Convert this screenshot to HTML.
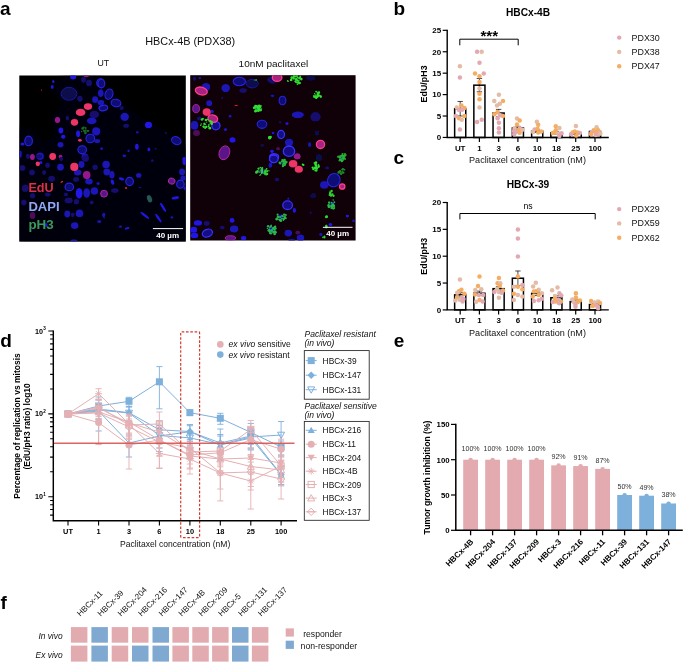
<!DOCTYPE html>
<html lang="en"><head><meta charset="utf-8"><title>Figure</title>
<style>
html,body{margin:0;padding:0;background:#fff;}
body{width:685px;height:663px;overflow:hidden;font-family:"Liberation Sans",sans-serif;}
svg{display:block;}
svg text{font-family:"Liberation Sans",sans-serif;}
</style></head><body>
<svg width="685" height="663" viewBox="0 0 685 663">
<rect width="685" height="663" fill="#fff"/>
<defs>
<clipPath id="cl"><rect x="19.3" y="75.5" width="166.5" height="166.1"/></clipPath>
<clipPath id="cr"><rect x="190.2" y="75.2" width="165.4" height="165.3"/></clipPath>
<filter id="bl" x="-5%" y="-5%" width="110%" height="110%"><feGaussianBlur stdDeviation="0.75"/></filter>
<filter id="bl2" x="-5%" y="-5%" width="110%" height="110%"><feGaussianBlur stdDeviation="3"/></filter>
</defs>
<rect x="19.3" y="75.5" width="166.5" height="166.1" fill="#000"/>
<g clip-path="url(#cl)">
<g filter="url(#bl2)"><polygon points="65.2,75.7 104.6,75.7 100.0,78.1 116.3,97.1 127.1,108.0 146.2,120.2 170.6,133.8 186.9,147.4 186.9,241.9 19.1,241.9 19.1,127.0 32.6,129.7 44.9,143.3 54.4,135.2 51.6,114.8 62.5,105.3 54.4,93.1 55.7,82.2" fill="#03040f"/></g>
<g filter="url(#bl)">
<ellipse cx="73.1" cy="77.1" rx="3.0" ry="2.4" fill="#2218e6"/>
<ellipse cx="83.5" cy="79.8" rx="2.4" ry="3.0" fill="#120e6c"/>
<ellipse cx="89.0" cy="82.9" rx="3.0" ry="3.4" fill="#120e6c"/>
<ellipse cx="100.5" cy="82.9" rx="3.8" ry="4.1" fill="#100c74" stroke="#2a24e0" stroke-width="1.1"/>
<ellipse cx="53.3" cy="81.5" rx="1.2" ry="1.6" fill="#2218e6"/>
<ellipse cx="52.3" cy="87.0" rx="1.4" ry="1.9" fill="#2218e6"/>
<ellipse cx="69.0" cy="93.8" rx="7.9" ry="6.5" fill="#0a084c" stroke="#1c18a8" stroke-width="0.9"/>
<ellipse cx="79.9" cy="98.8" rx="2.7" ry="3.0" fill="#120e6c"/>
<ellipse cx="95.1" cy="99.6" rx="3.0" ry="3.4" fill="#1a14b4"/>
<ellipse cx="100.8" cy="93.1" rx="2.7" ry="3.8" fill="#1a14b4"/>
<ellipse cx="100.8" cy="102.6" rx="3.4" ry="2.7" fill="#1a14b4"/>
<ellipse cx="101.9" cy="108.0" rx="3.4" ry="3.0" fill="#1a14b4"/>
<ellipse cx="94.4" cy="114.5" rx="4.8" ry="3.8" fill="#120e6c"/>
<ellipse cx="91.7" cy="120.9" rx="4.8" ry="3.4" fill="#1a14b4"/>
<ellipse cx="96.2" cy="131.4" rx="4.1" ry="4.1" fill="#1a14b4"/>
<ellipse cx="90.3" cy="138.5" rx="4.3" ry="4.3" fill="#100c74" stroke="#2a24e0" stroke-width="1.1"/>
<ellipse cx="97.1" cy="140.9" rx="3.0" ry="2.0" fill="#1a14b4"/>
<ellipse cx="78.1" cy="133.8" rx="2.0" ry="3.4" fill="#2218e6"/>
<ellipse cx="60.9" cy="130.4" rx="2.4" ry="3.0" fill="#2218e6"/>
<ellipse cx="63.2" cy="136.8" rx="2.2" ry="2.0" fill="#2218e6"/>
<ellipse cx="60.5" cy="144.7" rx="3.0" ry="2.7" fill="#1a14b4"/>
<ellipse cx="82.2" cy="149.8" rx="4.3" ry="4.1" fill="#100c74" stroke="#2a24e0" stroke-width="1.1"/>
<ellipse cx="28.6" cy="140.9" rx="3.8" ry="4.8" fill="#100c74" stroke="#2a24e0" stroke-width="1.1"/>
<ellipse cx="22.5" cy="144.0" rx="2.0" ry="1.6" fill="#2218e6"/>
<ellipse cx="40.1" cy="156.2" rx="3.8" ry="3.8" fill="#1a14b4"/>
<ellipse cx="27.9" cy="156.2" rx="2.0" ry="2.7" fill="#120e6c"/>
<ellipse cx="20.4" cy="154.2" rx="1.4" ry="3.4" fill="#1a14b4"/>
<ellipse cx="67.3" cy="118.2" rx="1.6" ry="2.4" fill="#120e6c"/>
<ellipse cx="84.9" cy="156.9" rx="3.4" ry="3.4" fill="#1a14b4"/>
<ellipse cx="88.0" cy="106.6" rx="4.1" ry="3.3" fill="#ee3468"/>
<ellipse cx="80.6" cy="112.4" rx="4.8" ry="3.7" fill="#ee3468"/>
<ellipse cx="74.5" cy="122.3" rx="3.7" ry="3.4" fill="#ee3468"/>
<ellipse cx="57.5" cy="120.0" rx="2.7" ry="3.0" fill="#96188c"/>
<ellipse cx="79.9" cy="140.3" rx="1.9" ry="1.4" fill="#ee3468"/>
<ellipse cx="52.7" cy="156.5" rx="3.4" ry="3.4" fill="#ee3468"/>
<ellipse cx="32.4" cy="156.9" rx="2.4" ry="3.0" fill="#96188c"/>
<ellipse cx="60.5" cy="156.6" rx="1.9" ry="1.9" fill="#96188c"/>
<ellipse cx="86.3" cy="76.1" rx="2.7" ry="1.1" fill="#96188c"/>
<ellipse cx="41.5" cy="90.1" rx="0.7" ry="0.7" fill="#e02030"/>
<ellipse cx="101.4" cy="83.6" rx="3.4" ry="4.3" fill="#100c74" stroke="#2a24e0" stroke-width="1.1"/>
<ellipse cx="100.7" cy="93.3" rx="2.7" ry="3.4" fill="#1a14b4"/>
<ellipse cx="109.0" cy="94.2" rx="3.8" ry="5.2" fill="#100c74" stroke="#2a24e0" stroke-width="1.1" transform="rotate(20 109.0 94.2)"/>
<ellipse cx="101.1" cy="102.3" rx="3.0" ry="2.4" fill="#1a14b4"/>
<ellipse cx="103.4" cy="108.0" rx="4.3" ry="2.7" fill="#100c74" stroke="#2a24e0" stroke-width="1.1" transform="rotate(-10 103.4 108.0)"/>
<ellipse cx="116.0" cy="103.0" rx="4.9" ry="3.7" fill="#100c74" stroke="#2a24e0" stroke-width="1.1" transform="rotate(10 116.0 103.0)"/>
<ellipse cx="121.7" cy="108.0" rx="2.0" ry="2.0" fill="#120e6c"/>
<ellipse cx="124.7" cy="116.8" rx="4.3" ry="4.1" fill="#1a14b4"/>
<ellipse cx="126.1" cy="125.7" rx="3.0" ry="2.0" fill="#120e6c"/>
<ellipse cx="148.5" cy="125.0" rx="3.5" ry="3.3" fill="#2218e6"/>
<ellipse cx="176.3" cy="140.6" rx="4.9" ry="3.8" fill="#100c74" stroke="#2a24e0" stroke-width="1.1" transform="rotate(25 176.3 140.6)"/>
<ellipse cx="137.3" cy="132.4" rx="1.4" ry="1.1" fill="#1a14b4"/>
<ellipse cx="136.9" cy="146.7" rx="1.8" ry="3.0" fill="#2218e6"/>
<ellipse cx="148.9" cy="149.4" rx="1.4" ry="1.9" fill="#2218e6"/>
<ellipse cx="101.6" cy="148.7" rx="1.4" ry="1.4" fill="#1a14b4"/>
<ellipse cx="124.4" cy="155.8" rx="1.9" ry="1.4" fill="#1a14b4"/>
<ellipse cx="184.4" cy="158.9" rx="2.0" ry="1.6" fill="#2218e6"/>
<ellipse cx="128.5" cy="150.8" rx="1.1" ry="1.4" fill="#1a14b4"/>
<ellipse cx="155.7" cy="148.7" rx="0.8" ry="0.8" fill="#1a14b4"/>
<ellipse cx="165.8" cy="133.1" rx="1.4" ry="1.1" fill="#0c0a44"/>
<ellipse cx="22.5" cy="167.9" rx="3.0" ry="3.0" fill="#120e6c"/>
<ellipse cx="32.0" cy="172.6" rx="3.0" ry="3.0" fill="#120e6c"/>
<ellipse cx="40.8" cy="162.5" rx="1.6" ry="1.6" fill="#2218e6"/>
<ellipse cx="47.6" cy="165.2" rx="2.4" ry="2.7" fill="#120e6c"/>
<ellipse cx="60.5" cy="167.2" rx="3.4" ry="3.4" fill="#1a14b4"/>
<ellipse cx="44.2" cy="172.6" rx="2.0" ry="2.4" fill="#120e6c"/>
<ellipse cx="51.6" cy="178.8" rx="3.4" ry="3.0" fill="#120e6c"/>
<ellipse cx="69.3" cy="186.9" rx="4.3" ry="3.8" fill="#100c74" stroke="#2a24e0" stroke-width="1.1"/>
<ellipse cx="79.1" cy="193.3" rx="3.4" ry="5.2" fill="#2218e6"/>
<ellipse cx="86.7" cy="193.0" rx="3.4" ry="4.8" fill="#1a14b4"/>
<ellipse cx="94.4" cy="191.0" rx="3.8" ry="3.8" fill="#1a14b4"/>
<ellipse cx="89.0" cy="181.5" rx="3.8" ry="3.0" fill="#1a14b4"/>
<ellipse cx="77.7" cy="172.6" rx="3.8" ry="3.0" fill="#1a14b4"/>
<ellipse cx="81.5" cy="164.5" rx="3.0" ry="3.4" fill="#1a14b4"/>
<ellipse cx="85.6" cy="158.4" rx="3.4" ry="3.4" fill="#120e6c"/>
<ellipse cx="95.1" cy="167.2" rx="2.7" ry="2.7" fill="#120e6c"/>
<ellipse cx="76.1" cy="179.4" rx="3.0" ry="2.4" fill="#120e6c"/>
<ellipse cx="25.2" cy="188.3" rx="3.4" ry="3.8" fill="#120e6c"/>
<ellipse cx="23.8" cy="202.5" rx="2.7" ry="3.0" fill="#120e6c"/>
<ellipse cx="32.6" cy="195.7" rx="2.7" ry="2.7" fill="#120e6c"/>
<ellipse cx="68.6" cy="200.5" rx="4.1" ry="3.0" fill="#120e6c"/>
<ellipse cx="76.4" cy="201.8" rx="2.7" ry="2.7" fill="#120e6c"/>
<ellipse cx="67.3" cy="214.0" rx="3.0" ry="3.4" fill="#1a14b4"/>
<ellipse cx="79.5" cy="213.4" rx="3.8" ry="3.8" fill="#1a14b4"/>
<ellipse cx="72.7" cy="214.7" rx="1.9" ry="2.2" fill="#120e6c"/>
<ellipse cx="74.7" cy="225.6" rx="3.8" ry="3.4" fill="#1a14b4"/>
<ellipse cx="46.2" cy="224.9" rx="1.4" ry="1.9" fill="#2218e6"/>
<ellipse cx="99.2" cy="221.5" rx="2.0" ry="1.6" fill="#1a14b4"/>
<ellipse cx="103.9" cy="214.7" rx="1.4" ry="2.0" fill="#1a14b4"/>
<ellipse cx="39.4" cy="156.4" rx="2.7" ry="2.0" fill="#120e6c"/>
<ellipse cx="65.9" cy="194.6" rx="2.0" ry="2.0" fill="#120e6c"/>
<ellipse cx="98.1" cy="183.5" rx="1.6" ry="1.6" fill="#1a14b4"/>
<ellipse cx="74.0" cy="240.5" rx="3.4" ry="1.1" fill="#1a14b4"/>
<ellipse cx="61.2" cy="159.1" rx="2.0" ry="2.0" fill="#120e6c"/>
<ellipse cx="91.7" cy="202.5" rx="2.0" ry="2.0" fill="#120e6c"/>
<ellipse cx="47.6" cy="194.4" rx="3.0" ry="2.0" fill="#120e6c"/>
<ellipse cx="74.3" cy="166.9" rx="4.1" ry="4.1" fill="#ee3468"/>
<ellipse cx="86.7" cy="175.1" rx="3.8" ry="4.1" fill="#96188c"/>
<ellipse cx="37.8" cy="163.8" rx="2.2" ry="2.4" fill="#ee3468"/>
<ellipse cx="61.8" cy="181.9" rx="1.4" ry="0.8" fill="#e02030" transform="rotate(-30 61.8 181.9)"/>
<ellipse cx="103.2" cy="193.7" rx="2.7" ry="3.4" fill="#96188c"/>
<ellipse cx="32.6" cy="215.4" rx="2.7" ry="3.4" fill="#4c0e58"/>
<ellipse cx="106.1" cy="164.5" rx="3.8" ry="3.8" fill="#1a14b4"/>
<ellipse cx="106.8" cy="172.0" rx="3.4" ry="3.4" fill="#1a14b4"/>
<ellipse cx="111.9" cy="174.7" rx="2.7" ry="3.8" fill="#1a14b4"/>
<ellipse cx="112.5" cy="182.1" rx="1.6" ry="2.7" fill="#2218e6" transform="rotate(-20 112.5 182.1)"/>
<ellipse cx="121.4" cy="178.8" rx="2.7" ry="1.4" fill="#2218e6" transform="rotate(15 121.4 178.8)"/>
<ellipse cx="129.6" cy="181.5" rx="3.8" ry="4.1" fill="#100c74" stroke="#2a24e0" stroke-width="1.1"/>
<ellipse cx="138.7" cy="175.4" rx="2.7" ry="2.4" fill="#1a14b4"/>
<ellipse cx="114.9" cy="190.6" rx="3.8" ry="2.4" fill="#120e6c"/>
<ellipse cx="152.3" cy="160.7" rx="1.4" ry="1.4" fill="#120e6c"/>
<ellipse cx="184.4" cy="161.1" rx="2.0" ry="4.1" fill="#2218e6"/>
<ellipse cx="182.1" cy="172.0" rx="3.0" ry="3.4" fill="#1a14b4"/>
<ellipse cx="183.1" cy="178.1" rx="2.7" ry="2.7" fill="#1a14b4"/>
<ellipse cx="180.4" cy="184.2" rx="3.8" ry="4.1" fill="#100c74" stroke="#2a24e0" stroke-width="1.1"/>
<ellipse cx="184.8" cy="188.3" rx="1.4" ry="2.0" fill="#1a14b4"/>
<ellipse cx="175.3" cy="197.8" rx="3.8" ry="1.4" fill="#2218e6" transform="rotate(-10 175.3 197.8)"/>
<ellipse cx="163.1" cy="207.3" rx="1.2" ry="5.2" fill="#2218e6" transform="rotate(-32 163.1 207.3)"/>
<ellipse cx="144.8" cy="215.4" rx="1.2" ry="5.4" fill="#2218e6" transform="rotate(-52 144.8 215.4)"/>
<ellipse cx="158.4" cy="218.1" rx="1.2" ry="5.2" fill="#2218e6" transform="rotate(-35 158.4 218.1)"/>
<ellipse cx="127.1" cy="228.3" rx="2.4" ry="1.1" fill="#2218e6" transform="rotate(-15 127.1 228.3)"/>
<ellipse cx="120.4" cy="226.7" rx="1.6" ry="1.1" fill="#1a14b4"/>
<ellipse cx="103.4" cy="216.1" rx="0.8" ry="2.7" fill="#1a14b4" transform="rotate(-30 103.4 216.1)"/>
<ellipse cx="140.0" cy="187.6" rx="1.4" ry="0.7" fill="#1a14b4"/>
<ellipse cx="171.9" cy="217.4" rx="1.4" ry="1.1" fill="#1a14b4"/>
<ellipse cx="104.1" cy="193.7" rx="3.4" ry="3.4" fill="#5a1488" stroke="#b428a4" stroke-width="0.9"/>
<ellipse cx="171.7" cy="181.1" rx="3.4" ry="3.0" fill="#5a1488" stroke="#b428a4" stroke-width="0.9" transform="rotate(20 171.7 181.1)"/>
<ellipse cx="126.1" cy="188.0" rx="1.1" ry="1.1" fill="#e02030"/>
<ellipse cx="149.5" cy="198.7" rx="2.4" ry="3.8" fill="#255858" transform="rotate(-20 149.5 198.7)"/>
<circle cx="84.2" cy="131.1" r="1.10" fill="#1e6a28"/>
<circle cx="87.6" cy="131.0" r="0.91" fill="#1e6a28"/>
<circle cx="87.6" cy="130.8" r="0.69" fill="#1e6a28"/>
<circle cx="83.9" cy="130.2" r="0.73" fill="#1e6a28"/>
<circle cx="81.6" cy="131.4" r="0.75" fill="#1e6a28"/>
<circle cx="85.4" cy="132.9" r="1.30" fill="#1e6a28"/>
<circle cx="82.6" cy="128.5" r="1.31" fill="#1e6a28"/>
<circle cx="88.5" cy="130.8" r="0.86" fill="#1e6a28"/>
<circle cx="85.8" cy="130.8" r="0.87" fill="#1e6a28"/>
<circle cx="85.6" cy="128.1" r="1.05" fill="#1e6a28"/>
<circle cx="83.3" cy="127.8" r="1.03" fill="#1e6a28"/>
<circle cx="85.8" cy="130.1" r="0.80" fill="#1e6a28"/>
<circle cx="83.8" cy="127.3" r="0.87" fill="#1e6a28"/>
</g></g>
<rect x="190.2" y="75.2" width="165.4" height="165.3" fill="#100008"/>
<g clip-path="url(#cr)"><g filter="url(#bl)">
<ellipse cx="239.3" cy="81.5" rx="6.1" ry="4.3" fill="#100c74" stroke="#2a24e0" stroke-width="1.1"/>
<ellipse cx="252.2" cy="83.6" rx="6.1" ry="4.3" fill="#0a084c" stroke="#1c18a8" stroke-width="0.9"/>
<ellipse cx="225.7" cy="88.1" rx="4.3" ry="4.1" fill="#1a14b4"/>
<ellipse cx="206.0" cy="87.0" rx="4.3" ry="4.1" fill="#1a14b4"/>
<ellipse cx="243.1" cy="90.6" rx="3.8" ry="2.4" fill="#120e6c"/>
<ellipse cx="271.9" cy="79.8" rx="4.8" ry="3.4" fill="#120e6c"/>
<ellipse cx="209.2" cy="103.3" rx="3.0" ry="3.0" fill="#1a14b4"/>
<ellipse cx="194.5" cy="125.4" rx="3.8" ry="4.3" fill="#1a14b4"/>
<ellipse cx="215.9" cy="125.7" rx="4.1" ry="4.1" fill="#120e84" stroke="#3830ff" stroke-width="1.3"/>
<ellipse cx="262.0" cy="124.3" rx="4.8" ry="4.1" fill="#100c74" stroke="#2a24e0" stroke-width="1.1"/>
<ellipse cx="232.5" cy="139.9" rx="3.0" ry="2.7" fill="#2218e6"/>
<ellipse cx="225.5" cy="129.7" rx="1.4" ry="1.4" fill="#2218e6"/>
<ellipse cx="230.1" cy="116.2" rx="1.4" ry="1.4" fill="#1a14b4"/>
<ellipse cx="199.3" cy="118.6" rx="2.4" ry="2.0" fill="#120e6c"/>
<ellipse cx="273.2" cy="156.9" rx="3.4" ry="3.0" fill="#120e84" stroke="#3830ff" stroke-width="1.3"/>
<ellipse cx="271.9" cy="151.4" rx="1.6" ry="1.4" fill="#2218e6"/>
<ellipse cx="272.6" cy="95.8" rx="1.4" ry="1.1" fill="#2218e6"/>
<ellipse cx="199.9" cy="78.1" rx="1.4" ry="1.1" fill="#1a14b4"/>
<ellipse cx="194.5" cy="78.8" rx="1.6" ry="2.0" fill="#120e6c"/>
<ellipse cx="212.1" cy="111.4" rx="1.6" ry="1.6" fill="#2218e6"/>
<ellipse cx="273.2" cy="133.1" rx="1.4" ry="1.1" fill="#1a14b4"/>
<ellipse cx="222.3" cy="97.8" rx="1.1" ry="1.1" fill="#120e6c"/>
<ellipse cx="262.4" cy="145.3" rx="2.0" ry="1.6" fill="#0c0a44"/>
<ellipse cx="201.3" cy="91.0" rx="6.1" ry="3.8" fill="#a82080" stroke="#ff3c8c" stroke-width="1.3" transform="rotate(15 201.3 91.0)"/>
<ellipse cx="196.1" cy="108.7" rx="3.4" ry="4.1" fill="#5a1488" stroke="#b428a4" stroke-width="0.9"/>
<ellipse cx="206.7" cy="112.1" rx="4.1" ry="3.8" fill="#ee3468"/>
<ellipse cx="212.8" cy="118.6" rx="4.9" ry="3.7" fill="#a82080" stroke="#ff3c8c" stroke-width="1.3" transform="rotate(15 212.8 118.6)"/>
<ellipse cx="196.5" cy="133.1" rx="3.4" ry="3.0" fill="#4c0e58"/>
<ellipse cx="224.4" cy="152.8" rx="5.2" ry="7.1" fill="#5a1488" stroke="#b428a4" stroke-width="0.9" transform="rotate(20 224.4 152.8)"/>
<ellipse cx="273.9" cy="77.5" rx="1.6" ry="2.7" fill="#ee3468"/>
<ellipse cx="236.2" cy="105.6" rx="1.9" ry="0.5" fill="#e02030"/>
<ellipse cx="282.5" cy="100.5" rx="3.4" ry="4.3" fill="#100c74" stroke="#2a24e0" stroke-width="1.1"/>
<ellipse cx="297.8" cy="114.8" rx="6.1" ry="3.4" fill="#1a14b4"/>
<ellipse cx="315.5" cy="116.8" rx="5.2" ry="4.8" fill="#120e6c"/>
<ellipse cx="281.1" cy="134.5" rx="3.4" ry="4.1" fill="#120e84" stroke="#3830ff" stroke-width="1.3"/>
<ellipse cx="289.0" cy="142.6" rx="4.1" ry="3.8" fill="#1a14b4"/>
<ellipse cx="289.0" cy="151.2" rx="5.7" ry="5.2" fill="#120e84" stroke="#3830ff" stroke-width="1.3"/>
<ellipse cx="274.8" cy="156.9" rx="3.8" ry="3.0" fill="#120e84" stroke="#3830ff" stroke-width="1.3"/>
<ellipse cx="287.0" cy="123.6" rx="1.6" ry="1.4" fill="#2218e6"/>
<ellipse cx="273.0" cy="133.1" rx="1.1" ry="1.1" fill="#2218e6"/>
<ellipse cx="272.0" cy="95.8" rx="1.4" ry="1.1" fill="#1a14b4"/>
<ellipse cx="272.0" cy="151.2" rx="1.6" ry="1.4" fill="#2218e6"/>
<ellipse cx="309.6" cy="144.7" rx="1.6" ry="2.4" fill="#1a14b4"/>
<ellipse cx="316.8" cy="133.1" rx="2.4" ry="2.7" fill="#0c0a44"/>
<ellipse cx="310.7" cy="78.1" rx="4.8" ry="2.7" fill="#0c0a44"/>
<ellipse cx="272.7" cy="80.9" rx="3.0" ry="2.7" fill="#120e6c"/>
<ellipse cx="318.9" cy="156.9" rx="2.7" ry="2.4" fill="#120e6c"/>
<ellipse cx="280.2" cy="122.3" rx="1.4" ry="1.1" fill="#120e6c"/>
<ellipse cx="277.1" cy="77.5" rx="4.8" ry="3.8" fill="#a82080" stroke="#ff3c8c" stroke-width="1.3"/>
<ellipse cx="320.5" cy="144.4" rx="4.1" ry="4.1" fill="#a82080" stroke="#ff3c8c" stroke-width="1.3"/>
<ellipse cx="297.4" cy="156.2" rx="3.0" ry="3.0" fill="#96188c"/>
<ellipse cx="278.1" cy="148.7" rx="1.9" ry="1.6" fill="#4c0e58"/>
<ellipse cx="197.9" cy="222.9" rx="4.1" ry="2.7" fill="#2218e6"/>
<ellipse cx="193.8" cy="229.7" rx="3.4" ry="3.0" fill="#2218e6"/>
<ellipse cx="194.5" cy="235.4" rx="3.8" ry="2.7" fill="#2218e6"/>
<ellipse cx="207.4" cy="233.1" rx="5.2" ry="3.8" fill="#120e84" stroke="#3830ff" stroke-width="1.3" transform="rotate(-20 207.4 233.1)"/>
<ellipse cx="206.7" cy="223.5" rx="3.0" ry="2.4" fill="#120e6c"/>
<ellipse cx="232.1" cy="220.4" rx="2.4" ry="2.4" fill="#2218e6"/>
<ellipse cx="234.1" cy="229.0" rx="4.3" ry="3.4" fill="#1a14b4"/>
<ellipse cx="222.3" cy="227.6" rx="2.4" ry="1.9" fill="#120e6c"/>
<ellipse cx="243.6" cy="238.1" rx="2.7" ry="2.2" fill="#2218e6"/>
<ellipse cx="270.5" cy="165.2" rx="1.6" ry="2.4" fill="#2218e6"/>
<ellipse cx="272.6" cy="158.4" rx="3.0" ry="3.4" fill="#120e84" stroke="#3830ff" stroke-width="1.3"/>
<ellipse cx="191.1" cy="230.3" rx="1.1" ry="2.7" fill="#2218e6"/>
<ellipse cx="230.5" cy="238.1" rx="5.2" ry="2.4" fill="#5a1488" stroke="#b428a4" stroke-width="0.9"/>
<ellipse cx="273.8" cy="158.8" rx="4.3" ry="3.8" fill="#120e84" stroke="#3830ff" stroke-width="1.3"/>
<ellipse cx="287.6" cy="205.2" rx="4.8" ry="4.3" fill="#120e84" stroke="#3830ff" stroke-width="1.3"/>
<ellipse cx="294.4" cy="210.4" rx="1.6" ry="2.4" fill="#2218e6"/>
<ellipse cx="324.3" cy="184.9" rx="4.3" ry="3.8" fill="#1a14b4"/>
<ellipse cx="333.8" cy="180.1" rx="6.1" ry="6.8" fill="#100c74" stroke="#2a24e0" stroke-width="1.1" transform="rotate(30 333.8 180.1)"/>
<ellipse cx="288.3" cy="233.1" rx="3.8" ry="3.4" fill="#1a14b4"/>
<ellipse cx="300.5" cy="237.8" rx="3.8" ry="3.4" fill="#1a14b4"/>
<ellipse cx="277.1" cy="179.4" rx="2.0" ry="2.0" fill="#120e6c"/>
<ellipse cx="313.2" cy="195.7" rx="3.0" ry="2.7" fill="#0c0a44"/>
<ellipse cx="318.9" cy="157.7" rx="3.4" ry="3.4" fill="#0c0a44"/>
<ellipse cx="327.3" cy="167.9" rx="2.0" ry="1.6" fill="#120e6c"/>
<ellipse cx="347.4" cy="216.1" rx="1.6" ry="1.4" fill="#2218e6"/>
<ellipse cx="353.5" cy="220.8" rx="1.4" ry="1.4" fill="#1a14b4"/>
<ellipse cx="330.4" cy="224.5" rx="1.9" ry="1.6" fill="#2218e6"/>
<ellipse cx="288.3" cy="198.7" rx="1.1" ry="1.1" fill="#1a14b4"/>
<ellipse cx="291.7" cy="240.2" rx="3.4" ry="1.1" fill="#1a14b4"/>
<ellipse cx="270.0" cy="165.2" rx="1.4" ry="2.7" fill="#1a14b4"/>
<ellipse cx="320.9" cy="234.4" rx="1.6" ry="1.6" fill="#1a14b4"/>
<ellipse cx="310.7" cy="212.7" rx="1.1" ry="1.1" fill="#120e6c"/>
<ellipse cx="293.1" cy="163.8" rx="4.3" ry="3.8" fill="#ee3468"/>
<ellipse cx="298.8" cy="169.3" rx="4.1" ry="3.5" fill="#ee3468"/>
<ellipse cx="297.1" cy="156.6" rx="3.4" ry="2.7" fill="#96188c"/>
<ellipse cx="342.2" cy="186.5" rx="2.7" ry="2.7" fill="#a82080" stroke="#ff3c8c" stroke-width="1.3"/>
<ellipse cx="297.8" cy="232.6" rx="2.4" ry="1.9" fill="#4c0e58"/>
<ellipse cx="258.3" cy="108.7" rx="2.4" ry="1.7" fill="#1818d0"/>
<circle cx="255.6" cy="107.5" r="0.86" fill="#30e030"/>
<circle cx="259.4" cy="106.0" r="0.83" fill="#30e030"/>
<circle cx="255.2" cy="107.6" r="1.25" fill="#30e030"/>
<circle cx="258.0" cy="106.9" r="1.32" fill="#30e030"/>
<circle cx="260.6" cy="110.2" r="1.17" fill="#30e030"/>
<circle cx="260.2" cy="110.6" r="0.69" fill="#30e030"/>
<circle cx="256.3" cy="106.1" r="1.05" fill="#30e030"/>
<circle cx="260.2" cy="107.3" r="1.13" fill="#30e030"/>
<circle cx="255.3" cy="107.2" r="0.97" fill="#30e030"/>
<circle cx="260.8" cy="105.9" r="0.98" fill="#30e030"/>
<circle cx="257.7" cy="108.0" r="1.13" fill="#30e030"/>
<circle cx="255.4" cy="106.0" r="1.21" fill="#30e030"/>
<circle cx="257.7" cy="110.7" r="1.11" fill="#30e030"/>
<circle cx="261.5" cy="109.0" r="0.78" fill="#30e030"/>
<circle cx="259.2" cy="109.2" r="1.18" fill="#30e030"/>
<circle cx="259.9" cy="109.9" r="0.92" fill="#30e030"/>
<circle cx="259.2" cy="108.0" r="0.96" fill="#30e030"/>
<circle cx="254.0" cy="107.7" r="1.21" fill="#30e030"/>
<circle cx="259.9" cy="107.3" r="0.94" fill="#30e030"/>
<circle cx="255.5" cy="111.2" r="1.30" fill="#30e030"/>
<circle cx="259.5" cy="109.8" r="0.82" fill="#30e030"/>
<circle cx="258.6" cy="111.0" r="1.06" fill="#30e030"/>
<circle cx="258.3" cy="108.9" r="0.94" fill="#30e030"/>
<circle cx="255.9" cy="110.6" r="1.30" fill="#30e030"/>
<circle cx="257.1" cy="106.4" r="1.08" fill="#30e030"/>
<circle cx="257.8" cy="108.0" r="1.26" fill="#30e030"/>
<circle cx="259.1" cy="105.6" r="1.20" fill="#30e030"/>
<circle cx="256.0" cy="110.0" r="0.73" fill="#30e030"/>
<circle cx="204.2" cy="123.2" r="0.71" fill="#30e030"/>
<circle cx="206.1" cy="126.7" r="0.89" fill="#30e030"/>
<circle cx="205.5" cy="124.3" r="0.77" fill="#30e030"/>
<circle cx="208.6" cy="126.5" r="0.68" fill="#30e030"/>
<circle cx="209.1" cy="120.9" r="0.76" fill="#30e030"/>
<circle cx="205.3" cy="127.9" r="0.91" fill="#30e030"/>
<circle cx="209.8" cy="128.2" r="1.33" fill="#30e030"/>
<circle cx="200.7" cy="125.2" r="0.72" fill="#30e030"/>
<circle cx="208.5" cy="126.4" r="0.84" fill="#30e030"/>
<circle cx="206.7" cy="122.1" r="0.68" fill="#30e030"/>
<circle cx="210.1" cy="123.0" r="0.76" fill="#30e030"/>
<circle cx="204.3" cy="124.0" r="1.02" fill="#30e030"/>
<circle cx="211.6" cy="123.5" r="1.13" fill="#30e030"/>
<circle cx="205.1" cy="128.0" r="0.78" fill="#30e030"/>
<circle cx="206.0" cy="119.9" r="1.18" fill="#30e030"/>
<circle cx="203.8" cy="126.8" r="1.20" fill="#30e030"/>
<circle cx="211.6" cy="123.8" r="1.20" fill="#30e030"/>
<circle cx="207.8" cy="119.5" r="0.82" fill="#30e030"/>
<circle cx="201.3" cy="123.9" r="0.68" fill="#30e030"/>
<circle cx="208.9" cy="124.9" r="0.84" fill="#30e030"/>
<circle cx="203.0" cy="118.7" r="0.96" fill="#30e030"/>
<circle cx="211.6" cy="122.0" r="1.30" fill="#30e030"/>
<circle cx="203.3" cy="126.5" r="0.82" fill="#30e030"/>
<circle cx="206.4" cy="126.9" r="1.08" fill="#30e030"/>
<circle cx="210.4" cy="121.0" r="0.98" fill="#30e030"/>
<circle cx="201.9" cy="119.8" r="0.72" fill="#30e030"/>
<circle cx="201.9" cy="119.4" r="1.19" fill="#30e030"/>
<circle cx="205.4" cy="120.1" r="0.78" fill="#30e030"/>
<circle cx="269.4" cy="137.1" r="1.20" fill="#30e030"/>
<circle cx="270.2" cy="137.7" r="0.93" fill="#30e030"/>
<circle cx="270.5" cy="137.5" r="0.78" fill="#30e030"/>
<circle cx="269.6" cy="138.2" r="1.27" fill="#30e030"/>
<circle cx="269.4" cy="137.4" r="1.21" fill="#30e030"/>
<circle cx="256.2" cy="80.1" r="0.90" fill="#1e8a28"/>
<circle cx="254.3" cy="80.1" r="0.67" fill="#1e8a28"/>
<circle cx="256.2" cy="80.1" r="1.02" fill="#1e8a28"/>
<circle cx="299.7" cy="78.2" r="1.24" fill="#30e030"/>
<circle cx="297.6" cy="77.6" r="0.83" fill="#30e030"/>
<circle cx="295.8" cy="81.7" r="1.05" fill="#30e030"/>
<circle cx="296.3" cy="82.6" r="0.75" fill="#30e030"/>
<circle cx="299.2" cy="78.0" r="0.97" fill="#30e030"/>
<circle cx="292.0" cy="77.2" r="0.94" fill="#30e030"/>
<circle cx="299.8" cy="77.8" r="1.02" fill="#30e030"/>
<circle cx="295.7" cy="79.4" r="0.96" fill="#30e030"/>
<circle cx="296.6" cy="79.8" r="1.20" fill="#30e030"/>
<circle cx="298.2" cy="82.4" r="1.15" fill="#30e030"/>
<circle cx="293.6" cy="78.6" r="1.01" fill="#30e030"/>
<circle cx="291.9" cy="78.1" r="0.74" fill="#30e030"/>
<circle cx="294.0" cy="78.6" r="0.85" fill="#30e030"/>
<circle cx="297.0" cy="76.1" r="1.04" fill="#30e030"/>
<circle cx="296.8" cy="75.0" r="0.96" fill="#30e030"/>
<circle cx="293.5" cy="77.3" r="1.01" fill="#30e030"/>
<circle cx="295.2" cy="76.5" r="1.02" fill="#30e030"/>
<circle cx="291.3" cy="80.1" r="1.13" fill="#30e030"/>
<circle cx="300.2" cy="76.3" r="0.84" fill="#30e030"/>
<circle cx="291.6" cy="77.8" r="1.22" fill="#30e030"/>
<circle cx="297.7" cy="80.8" r="0.96" fill="#30e030"/>
<circle cx="298.9" cy="80.5" r="0.71" fill="#30e030"/>
<circle cx="294.1" cy="75.8" r="1.26" fill="#30e030"/>
<circle cx="299.1" cy="82.8" r="1.10" fill="#30e030"/>
<circle cx="299.6" cy="83.0" r="1.31" fill="#30e030"/>
<circle cx="297.5" cy="84.1" r="0.93" fill="#30e030"/>
<circle cx="291.1" cy="79.9" r="1.22" fill="#30e030"/>
<circle cx="298.4" cy="82.2" r="1.01" fill="#30e030"/>
<circle cx="295.2" cy="81.3" r="0.88" fill="#30e030"/>
<circle cx="296.3" cy="78.8" r="1.03" fill="#30e030"/>
<circle cx="295.8" cy="79.7" r="0.89" fill="#30e030"/>
<circle cx="293.7" cy="77.1" r="0.71" fill="#30e030"/>
<circle cx="301.3" cy="79.1" r="1.31" fill="#30e030"/>
<circle cx="288.1" cy="81.4" r="0.69" fill="#30e030"/>
<circle cx="287.7" cy="80.7" r="0.75" fill="#30e030"/>
<circle cx="314.3" cy="96.8" r="1.21" fill="#30e030"/>
<circle cx="317.4" cy="96.6" r="1.28" fill="#30e030"/>
<circle cx="314.6" cy="93.7" r="0.72" fill="#30e030"/>
<circle cx="320.5" cy="96.2" r="0.95" fill="#30e030"/>
<circle cx="320.8" cy="96.7" r="1.09" fill="#30e030"/>
<circle cx="317.9" cy="94.1" r="1.23" fill="#30e030"/>
<circle cx="320.7" cy="96.5" r="0.97" fill="#30e030"/>
<circle cx="316.0" cy="97.5" r="1.28" fill="#30e030"/>
<circle cx="317.4" cy="96.5" r="1.02" fill="#30e030"/>
<circle cx="317.6" cy="96.4" r="0.77" fill="#30e030"/>
<circle cx="319.1" cy="95.6" r="0.87" fill="#30e030"/>
<circle cx="316.4" cy="98.2" r="0.86" fill="#30e030"/>
<circle cx="315.9" cy="95.1" r="0.90" fill="#30e030"/>
<circle cx="319.4" cy="95.3" r="0.68" fill="#30e030"/>
<circle cx="317.2" cy="92.3" r="0.79" fill="#30e030"/>
<circle cx="313.9" cy="95.7" r="0.74" fill="#30e030"/>
<circle cx="318.6" cy="92.8" r="0.99" fill="#30e030"/>
<circle cx="318.7" cy="93.1" r="1.00" fill="#30e030"/>
<circle cx="316.1" cy="91.6" r="0.89" fill="#30e030"/>
<circle cx="319.1" cy="92.3" r="1.09" fill="#30e030"/>
<circle cx="315.7" cy="96.4" r="0.70" fill="#30e030"/>
<circle cx="318.2" cy="95.8" r="1.16" fill="#30e030"/>
<circle cx="317.5" cy="96.6" r="0.72" fill="#30e030"/>
<circle cx="345.0" cy="154.2" r="1.11" fill="#28a828"/>
<circle cx="342.2" cy="158.5" r="0.86" fill="#28a828"/>
<circle cx="340.8" cy="157.2" r="0.96" fill="#28a828"/>
<circle cx="342.2" cy="160.2" r="1.31" fill="#28a828"/>
<circle cx="340.4" cy="156.4" r="1.31" fill="#28a828"/>
<circle cx="341.6" cy="158.8" r="0.67" fill="#28a828"/>
<circle cx="340.2" cy="158.5" r="1.00" fill="#28a828"/>
<circle cx="343.6" cy="159.2" r="0.67" fill="#28a828"/>
<circle cx="342.5" cy="157.9" r="0.93" fill="#28a828"/>
<circle cx="343.3" cy="157.0" r="0.87" fill="#28a828"/>
<circle cx="343.0" cy="159.5" r="1.02" fill="#28a828"/>
<circle cx="342.6" cy="154.1" r="1.14" fill="#28a828"/>
<circle cx="344.8" cy="155.4" r="0.88" fill="#28a828"/>
<circle cx="344.4" cy="156.7" r="1.15" fill="#28a828"/>
<circle cx="342.0" cy="156.3" r="1.22" fill="#28a828"/>
<circle cx="345.5" cy="155.2" r="1.15" fill="#28a828"/>
<circle cx="343.3" cy="155.7" r="1.01" fill="#28a828"/>
<circle cx="338.3" cy="156.8" r="1.20" fill="#28a828"/>
<circle cx="270.6" cy="136.9" r="1.26" fill="#30e030"/>
<circle cx="270.0" cy="136.8" r="0.82" fill="#30e030"/>
<ellipse cx="262.4" cy="171.3" rx="3.4" ry="2.4" fill="#1818d0"/>
<circle cx="264.8" cy="171.6" r="0.90" fill="#30d030"/>
<circle cx="267.3" cy="173.9" r="1.04" fill="#30d030"/>
<circle cx="258.6" cy="168.6" r="1.12" fill="#30d030"/>
<circle cx="262.0" cy="171.3" r="1.20" fill="#30d030"/>
<circle cx="262.3" cy="167.9" r="1.02" fill="#30d030"/>
<circle cx="261.4" cy="170.3" r="1.15" fill="#30d030"/>
<circle cx="262.3" cy="172.6" r="0.84" fill="#30d030"/>
<circle cx="262.0" cy="169.2" r="1.16" fill="#30d030"/>
<circle cx="267.1" cy="170.8" r="0.92" fill="#30d030"/>
<circle cx="256.8" cy="171.8" r="1.18" fill="#30d030"/>
<circle cx="258.3" cy="168.7" r="0.72" fill="#30d030"/>
<circle cx="264.4" cy="173.2" r="1.16" fill="#30d030"/>
<circle cx="260.7" cy="174.7" r="0.67" fill="#30d030"/>
<circle cx="265.6" cy="172.2" r="1.11" fill="#30d030"/>
<circle cx="260.4" cy="167.6" r="0.86" fill="#30d030"/>
<circle cx="257.8" cy="171.0" r="0.98" fill="#30d030"/>
<circle cx="267.1" cy="174.3" r="0.80" fill="#30d030"/>
<circle cx="268.9" cy="170.7" r="0.68" fill="#30d030"/>
<circle cx="256.4" cy="172.4" r="1.31" fill="#30d030"/>
<circle cx="259.0" cy="172.1" r="0.80" fill="#30d030"/>
<circle cx="265.3" cy="170.6" r="1.05" fill="#30d030"/>
<circle cx="265.5" cy="174.0" r="1.30" fill="#30d030"/>
<circle cx="266.5" cy="174.5" r="1.00" fill="#30d030"/>
<circle cx="266.7" cy="168.7" r="0.82" fill="#30d030"/>
<circle cx="266.2" cy="169.3" r="0.68" fill="#30d030"/>
<circle cx="267.1" cy="171.4" r="0.96" fill="#30d030"/>
<circle cx="261.6" cy="173.0" r="0.89" fill="#30d030"/>
<circle cx="259.9" cy="175.3" r="0.67" fill="#30d030"/>
<ellipse cx="271.2" cy="229.7" rx="2.4" ry="2.4" fill="#1818d0"/>
<circle cx="271.2" cy="225.3" r="0.74" fill="#2aa860"/>
<circle cx="274.8" cy="227.9" r="1.26" fill="#2aa860"/>
<circle cx="270.5" cy="232.5" r="0.93" fill="#2aa860"/>
<circle cx="274.8" cy="229.6" r="0.90" fill="#2aa860"/>
<circle cx="269.0" cy="230.7" r="0.70" fill="#2aa860"/>
<circle cx="274.7" cy="232.2" r="0.85" fill="#2aa860"/>
<circle cx="273.4" cy="228.7" r="0.84" fill="#2aa860"/>
<circle cx="269.1" cy="229.5" r="0.91" fill="#2aa860"/>
<circle cx="275.5" cy="228.4" r="1.20" fill="#2aa860"/>
<circle cx="268.1" cy="226.3" r="1.29" fill="#2aa860"/>
<circle cx="267.4" cy="228.4" r="0.70" fill="#2aa860"/>
<circle cx="270.8" cy="226.5" r="1.17" fill="#2aa860"/>
<circle cx="269.6" cy="227.7" r="0.70" fill="#2aa860"/>
<circle cx="272.7" cy="228.9" r="0.98" fill="#2aa860"/>
<circle cx="269.8" cy="231.8" r="1.16" fill="#2aa860"/>
<circle cx="273.6" cy="229.3" r="1.10" fill="#2aa860"/>
<circle cx="270.1" cy="233.0" r="0.93" fill="#2aa860"/>
<circle cx="272.1" cy="231.3" r="0.80" fill="#2aa860"/>
<circle cx="274.0" cy="227.8" r="0.81" fill="#2aa860"/>
<circle cx="275.1" cy="227.0" r="0.96" fill="#2aa860"/>
<circle cx="272.5" cy="231.3" r="0.73" fill="#2aa860"/>
<circle cx="270.4" cy="230.9" r="0.82" fill="#2aa860"/>
<circle cx="271.0" cy="233.2" r="1.26" fill="#2aa860"/>
<ellipse cx="282.9" cy="163.1" rx="1.9" ry="1.9" fill="#1818d0"/>
<circle cx="282.9" cy="160.7" r="0.94" fill="#28b838"/>
<circle cx="280.6" cy="162.8" r="0.89" fill="#28b838"/>
<circle cx="284.7" cy="163.9" r="1.31" fill="#28b838"/>
<circle cx="284.8" cy="165.1" r="1.08" fill="#28b838"/>
<circle cx="284.0" cy="161.8" r="0.85" fill="#28b838"/>
<circle cx="282.9" cy="165.5" r="0.96" fill="#28b838"/>
<circle cx="286.3" cy="162.1" r="1.25" fill="#28b838"/>
<circle cx="283.6" cy="163.2" r="1.14" fill="#28b838"/>
<circle cx="285.0" cy="161.6" r="1.06" fill="#28b838"/>
<circle cx="285.3" cy="163.1" r="1.28" fill="#28b838"/>
<circle cx="284.5" cy="160.0" r="1.31" fill="#28b838"/>
<circle cx="282.9" cy="164.4" r="0.77" fill="#28b838"/>
<circle cx="279.8" cy="162.7" r="1.29" fill="#28b838"/>
<circle cx="282.4" cy="160.1" r="1.17" fill="#28b838"/>
<circle cx="280.2" cy="163.9" r="0.69" fill="#28b838"/>
<circle cx="283.3" cy="161.3" r="1.28" fill="#28b838"/>
<circle cx="281.6" cy="161.5" r="0.75" fill="#28b838"/>
<circle cx="282.9" cy="166.2" r="1.13" fill="#28b838"/>
<circle cx="303.5" cy="165.0" r="1.01" fill="#30e030"/>
<circle cx="302.5" cy="164.4" r="0.81" fill="#30e030"/>
<circle cx="303.1" cy="164.7" r="0.87" fill="#30e030"/>
<circle cx="312.6" cy="167.5" r="1.09" fill="#30e030"/>
<circle cx="318.5" cy="164.7" r="0.82" fill="#30e030"/>
<circle cx="316.5" cy="170.5" r="1.13" fill="#30e030"/>
<circle cx="316.2" cy="167.1" r="1.00" fill="#30e030"/>
<circle cx="315.2" cy="164.2" r="0.84" fill="#30e030"/>
<circle cx="314.5" cy="163.1" r="0.82" fill="#30e030"/>
<circle cx="318.7" cy="167.0" r="0.94" fill="#30e030"/>
<circle cx="315.7" cy="164.9" r="1.20" fill="#30e030"/>
<circle cx="316.2" cy="163.7" r="0.80" fill="#30e030"/>
<circle cx="318.7" cy="166.1" r="1.21" fill="#30e030"/>
<circle cx="316.7" cy="168.4" r="1.17" fill="#30e030"/>
<circle cx="315.3" cy="170.4" r="0.99" fill="#30e030"/>
<circle cx="317.2" cy="168.3" r="0.94" fill="#30e030"/>
<circle cx="314.4" cy="163.1" r="0.76" fill="#30e030"/>
<circle cx="314.9" cy="167.7" r="1.31" fill="#30e030"/>
<circle cx="317.0" cy="167.3" r="0.70" fill="#30e030"/>
<circle cx="313.4" cy="168.9" r="1.25" fill="#30e030"/>
<circle cx="316.0" cy="162.5" r="1.28" fill="#30e030"/>
<circle cx="315.6" cy="168.1" r="1.29" fill="#30e030"/>
<circle cx="316.4" cy="165.8" r="1.11" fill="#30e030"/>
<ellipse cx="341.9" cy="158.4" rx="2.4" ry="1.5" fill="#1818d0"/>
<circle cx="339.8" cy="159.7" r="0.89" fill="#28b838"/>
<circle cx="342.1" cy="158.5" r="0.85" fill="#28b838"/>
<circle cx="339.2" cy="160.7" r="0.75" fill="#28b838"/>
<circle cx="344.1" cy="158.1" r="0.90" fill="#28b838"/>
<circle cx="343.8" cy="156.0" r="0.95" fill="#28b838"/>
<circle cx="345.1" cy="159.0" r="0.91" fill="#28b838"/>
<circle cx="343.8" cy="157.8" r="0.91" fill="#28b838"/>
<circle cx="342.6" cy="158.1" r="0.94" fill="#28b838"/>
<circle cx="343.5" cy="156.0" r="0.69" fill="#28b838"/>
<circle cx="343.1" cy="158.6" r="1.28" fill="#28b838"/>
<circle cx="341.8" cy="161.0" r="1.26" fill="#28b838"/>
<circle cx="340.6" cy="159.7" r="1.30" fill="#28b838"/>
<circle cx="340.1" cy="157.4" r="1.14" fill="#28b838"/>
<circle cx="340.9" cy="159.8" r="0.67" fill="#28b838"/>
<circle cx="342.1" cy="155.5" r="1.09" fill="#28b838"/>
<circle cx="342.4" cy="171.8" r="0.82" fill="#1e8a28"/>
<circle cx="338.7" cy="172.5" r="1.30" fill="#1e8a28"/>
<circle cx="340.7" cy="173.1" r="0.95" fill="#1e8a28"/>
<circle cx="338.7" cy="172.1" r="0.79" fill="#1e8a28"/>
<circle cx="342.9" cy="169.2" r="1.21" fill="#1e8a28"/>
<circle cx="342.3" cy="169.4" r="0.88" fill="#1e8a28"/>
<circle cx="341.1" cy="173.8" r="1.19" fill="#1e8a28"/>
<circle cx="343.3" cy="172.7" r="1.17" fill="#1e8a28"/>
<circle cx="342.0" cy="172.8" r="0.69" fill="#1e8a28"/>
<circle cx="340.1" cy="171.3" r="1.32" fill="#1e8a28"/>
<circle cx="344.5" cy="169.7" r="0.84" fill="#1e8a28"/>
<circle cx="332.6" cy="194.2" r="1.00" fill="#30d030"/>
<circle cx="331.3" cy="191.8" r="0.82" fill="#30d030"/>
<circle cx="329.7" cy="194.9" r="1.11" fill="#30d030"/>
<circle cx="331.7" cy="190.9" r="1.11" fill="#30d030"/>
<circle cx="333.7" cy="195.6" r="0.86" fill="#30d030"/>
<circle cx="330.1" cy="192.9" r="1.16" fill="#30d030"/>
<circle cx="332.2" cy="195.1" r="0.83" fill="#30d030"/>
<circle cx="333.4" cy="196.0" r="1.05" fill="#30d030"/>
<circle cx="330.9" cy="195.4" r="1.32" fill="#30d030"/>
<circle cx="330.3" cy="193.6" r="1.20" fill="#30d030"/>
<circle cx="330.1" cy="191.2" r="0.73" fill="#30d030"/>
<ellipse cx="332.4" cy="204.5" rx="2.2" ry="2.4" fill="#1818d0"/>
<circle cx="328.6" cy="205.2" r="1.22" fill="#2ab848"/>
<circle cx="333.2" cy="204.1" r="0.86" fill="#2ab848"/>
<circle cx="333.8" cy="206.0" r="1.31" fill="#2ab848"/>
<circle cx="328.8" cy="202.3" r="0.91" fill="#2ab848"/>
<circle cx="334.4" cy="202.2" r="0.84" fill="#2ab848"/>
<circle cx="333.2" cy="200.0" r="0.74" fill="#2ab848"/>
<circle cx="329.6" cy="202.4" r="0.81" fill="#2ab848"/>
<circle cx="331.3" cy="205.9" r="0.80" fill="#2ab848"/>
<circle cx="332.3" cy="208.2" r="1.10" fill="#2ab848"/>
<circle cx="332.6" cy="205.0" r="0.88" fill="#2ab848"/>
<circle cx="331.6" cy="202.7" r="0.87" fill="#2ab848"/>
<circle cx="333.6" cy="208.6" r="1.03" fill="#2ab848"/>
<circle cx="333.7" cy="205.1" r="0.93" fill="#2ab848"/>
<circle cx="329.1" cy="203.4" r="0.73" fill="#2ab848"/>
<circle cx="334.3" cy="207.9" r="0.94" fill="#2ab848"/>
<circle cx="331.9" cy="207.1" r="1.30" fill="#2ab848"/>
<circle cx="331.2" cy="207.9" r="0.90" fill="#2ab848"/>
<circle cx="328.9" cy="206.8" r="1.33" fill="#2ab848"/>
<circle cx="331.2" cy="206.1" r="1.15" fill="#2ab848"/>
<circle cx="332.5" cy="204.9" r="1.26" fill="#2ab848"/>
<ellipse cx="280.9" cy="216.8" rx="2.7" ry="2.4" fill="#1818d0"/>
<circle cx="276.5" cy="218.7" r="0.94" fill="#2ab848"/>
<circle cx="283.6" cy="214.6" r="0.77" fill="#2ab848"/>
<circle cx="284.9" cy="217.1" r="1.09" fill="#2ab848"/>
<circle cx="282.2" cy="216.0" r="1.08" fill="#2ab848"/>
<circle cx="278.2" cy="219.2" r="0.76" fill="#2ab848"/>
<circle cx="280.0" cy="220.1" r="1.28" fill="#2ab848"/>
<circle cx="283.8" cy="218.9" r="1.20" fill="#2ab848"/>
<circle cx="283.2" cy="216.3" r="0.75" fill="#2ab848"/>
<circle cx="285.9" cy="215.1" r="0.99" fill="#2ab848"/>
<circle cx="285.8" cy="218.3" r="0.92" fill="#2ab848"/>
<circle cx="284.4" cy="214.6" r="1.21" fill="#2ab848"/>
<circle cx="283.4" cy="220.3" r="0.81" fill="#2ab848"/>
<circle cx="276.7" cy="219.2" r="1.22" fill="#2ab848"/>
<circle cx="281.9" cy="218.8" r="0.93" fill="#2ab848"/>
<circle cx="277.5" cy="216.4" r="0.75" fill="#2ab848"/>
<circle cx="280.9" cy="220.8" r="1.26" fill="#2ab848"/>
<circle cx="284.8" cy="217.7" r="1.17" fill="#2ab848"/>
<circle cx="285.7" cy="217.8" r="0.74" fill="#2ab848"/>
<circle cx="277.6" cy="214.7" r="1.08" fill="#2ab848"/>
<circle cx="279.6" cy="219.7" r="1.05" fill="#2ab848"/>
<circle cx="276.9" cy="218.5" r="0.96" fill="#2ab848"/>
<circle cx="280.1" cy="217.0" r="1.08" fill="#2ab848"/>
<circle cx="278.2" cy="216.9" r="1.17" fill="#2ab848"/>
<ellipse cx="272.7" cy="230.3" rx="2.0" ry="2.4" fill="#1818d0"/>
<circle cx="273.2" cy="227.2" r="0.78" fill="#2ab848"/>
<circle cx="271.4" cy="230.6" r="0.75" fill="#2ab848"/>
<circle cx="271.6" cy="230.9" r="0.96" fill="#2ab848"/>
<circle cx="271.9" cy="230.3" r="1.09" fill="#2ab848"/>
<circle cx="275.7" cy="232.3" r="1.18" fill="#2ab848"/>
<circle cx="271.8" cy="230.3" r="1.00" fill="#2ab848"/>
<circle cx="269.9" cy="233.6" r="0.76" fill="#2ab848"/>
<circle cx="275.2" cy="226.6" r="1.15" fill="#2ab848"/>
<circle cx="273.4" cy="228.4" r="1.32" fill="#2ab848"/>
<circle cx="268.7" cy="230.6" r="1.27" fill="#2ab848"/>
<circle cx="274.6" cy="234.0" r="1.28" fill="#2ab848"/>
<circle cx="274.9" cy="231.5" r="1.17" fill="#2ab848"/>
<circle cx="274.8" cy="234.1" r="0.85" fill="#2ab848"/>
<circle cx="273.3" cy="228.7" r="1.00" fill="#2ab848"/>
<circle cx="274.3" cy="229.3" r="0.84" fill="#2ab848"/>
<circle cx="270.4" cy="230.2" r="0.69" fill="#2ab848"/>
<circle cx="273.4" cy="232.1" r="1.29" fill="#2ab848"/>
<circle cx="271.1" cy="226.3" r="0.78" fill="#2ab848"/>
<circle cx="327.1" cy="216.8" r="1.02" fill="#30d030"/>
<circle cx="326.6" cy="216.5" r="1.25" fill="#30d030"/>
<circle cx="326.2" cy="216.9" r="1.25" fill="#30d030"/>
<circle cx="324.5" cy="237.4" r="1.08" fill="#30d030"/>
<circle cx="322.9" cy="237.3" r="0.84" fill="#30d030"/>
<circle cx="324.4" cy="236.4" r="0.90" fill="#30d030"/>
<circle cx="326.4" cy="225.5" r="0.78" fill="#30d030"/>
<circle cx="326.3" cy="226.0" r="1.21" fill="#30d030"/>
<circle cx="326.3" cy="227.1" r="1.32" fill="#30d030"/>
</g></g>
<g font-family="'Liberation Sans', sans-serif" font-weight="bold" font-size="13.1">
<text x="28.4" y="192.3" fill="#dc3049" textLength="25.3" lengthAdjust="spacingAndGlyphs">EdU</text>
<text x="28.4" y="210.6" fill="#8ea8f2" textLength="31.2" lengthAdjust="spacingAndGlyphs">DAPI</text>
<text x="28.4" y="229.4" fill="#3a9a5c" textLength="25.3" lengthAdjust="spacingAndGlyphs">pH3</text>
</g>
<rect x="152.9" y="228.1" width="30.2" height="1" fill="#fff"/>
<rect x="322.9" y="226.8" width="29.6" height="1" fill="#fff"/>
<g font-family="'Liberation Sans', sans-serif" font-weight="bold" font-size="8.0" fill="#fff">
<text x="156.2" y="237.6">40 µm</text>
<text x="326.2" y="236.4">40 µm</text>
</g>
<g font-family="'Liberation Sans', sans-serif" fill="#111">
<text x="0" y="15" font-weight="bold" font-size="19" fill="#000">a</text>
<text x="145.2" y="45.2" font-size="10.2" textLength="90" lengthAdjust="spacingAndGlyphs">HBCx-4B (PDX38)</text>
<text x="97.5" y="66.4" font-size="9.6" textLength="11.7" lengthAdjust="spacingAndGlyphs">UT</text>
<text x="238.6" y="67.4" font-size="9.4" textLength="69.6" lengthAdjust="spacingAndGlyphs">10nM paclitaxel</text>
</g>
<g id="pb">
<rect x="454.65" y="108.74" width="11.1" height="28.71" fill="#fff" stroke="#000" stroke-width="1.5"/>
<path d="M460.20 101.46V116.02M457.50 101.46h5.4M457.50 116.02h5.4" stroke="#000" stroke-width="0.7" fill="none"/>
<rect x="473.85" y="85.17" width="11.1" height="52.28" fill="#fff" stroke="#000" stroke-width="1.5"/>
<path d="M479.40 78.53V91.81M476.70 78.53h5.4M476.70 91.81h5.4" stroke="#000" stroke-width="0.7" fill="none"/>
<rect x="493.05" y="113.03" width="11.1" height="24.42" fill="#fff" stroke="#000" stroke-width="1.5"/>
<path d="M498.60 109.38V116.67M495.90 109.38h5.4M495.90 116.67h5.4" stroke="#000" stroke-width="0.7" fill="none"/>
<rect x="512.35" y="128.02" width="11.1" height="9.43" fill="#fff" stroke="#000" stroke-width="1.5"/>
<path d="M517.90 126.31V129.74M515.20 126.31h5.4M515.20 129.74h5.4" stroke="#000" stroke-width="0.7" fill="none"/>
<rect x="531.65" y="131.24" width="11.1" height="6.21" fill="#fff" stroke="#000" stroke-width="1.5"/>
<path d="M537.20 129.95V132.52M534.50 129.95h5.4M534.50 132.52h5.4" stroke="#000" stroke-width="0.7" fill="none"/>
<rect x="550.85" y="132.74" width="11.1" height="4.71" fill="#fff" stroke="#000" stroke-width="1.5"/>
<path d="M556.40 131.45V134.02M553.70 131.45h5.4M553.70 134.02h5.4" stroke="#000" stroke-width="0.7" fill="none"/>
<rect x="570.15" y="133.59" width="11.1" height="3.86" fill="#fff" stroke="#000" stroke-width="1.5"/>
<path d="M575.70 132.74V134.45M573.00 132.74h5.4M573.00 134.45h5.4" stroke="#000" stroke-width="0.7" fill="none"/>
<rect x="589.45" y="131.45" width="11.1" height="6.00" fill="#fff" stroke="#000" stroke-width="1.5"/>
<path d="M595.00 130.38V132.52M592.30 130.38h5.4M592.30 132.52h5.4" stroke="#000" stroke-width="0.7" fill="none"/>
<path d="M447.2 29.72V137.45H608.8" stroke="#000" stroke-width="1.4" fill="none"/>
<path d="M442.7 137.45h4.5" stroke="#000" stroke-width="1.2"/>
<text x="441.2" y="140.25" font-family="'Liberation Sans', sans-serif" font-weight="bold" font-size="8.0" text-anchor="end">0</text>
<path d="M442.7 116.02h4.5" stroke="#000" stroke-width="1.2"/>
<text x="441.2" y="118.82" font-family="'Liberation Sans', sans-serif" font-weight="bold" font-size="8.0" text-anchor="end">5</text>
<path d="M442.7 94.60h4.5" stroke="#000" stroke-width="1.2"/>
<text x="441.2" y="97.40" font-family="'Liberation Sans', sans-serif" font-weight="bold" font-size="8.0" text-anchor="end">10</text>
<path d="M442.7 73.17h4.5" stroke="#000" stroke-width="1.2"/>
<text x="441.2" y="75.97" font-family="'Liberation Sans', sans-serif" font-weight="bold" font-size="8.0" text-anchor="end">15</text>
<path d="M442.7 51.75h4.5" stroke="#000" stroke-width="1.2"/>
<text x="441.2" y="54.55" font-family="'Liberation Sans', sans-serif" font-weight="bold" font-size="8.0" text-anchor="end">20</text>
<path d="M442.7 30.32h4.5" stroke="#000" stroke-width="1.2"/>
<text x="441.2" y="33.12" font-family="'Liberation Sans', sans-serif" font-weight="bold" font-size="8.0" text-anchor="end">25</text>
<path d="M460.20 137.45v4.6" stroke="#000" stroke-width="1.2"/>
<text x="460.20" y="150.55" font-family="'Liberation Sans', sans-serif" font-weight="bold" font-size="7.95" text-anchor="middle">UT</text>
<path d="M479.40 137.45v4.6" stroke="#000" stroke-width="1.2"/>
<text x="479.40" y="150.55" font-family="'Liberation Sans', sans-serif" font-weight="bold" font-size="7.95" text-anchor="middle">1</text>
<path d="M498.60 137.45v4.6" stroke="#000" stroke-width="1.2"/>
<text x="498.60" y="150.55" font-family="'Liberation Sans', sans-serif" font-weight="bold" font-size="7.95" text-anchor="middle">3</text>
<path d="M517.90 137.45v4.6" stroke="#000" stroke-width="1.2"/>
<text x="517.90" y="150.55" font-family="'Liberation Sans', sans-serif" font-weight="bold" font-size="7.95" text-anchor="middle">6</text>
<path d="M537.20 137.45v4.6" stroke="#000" stroke-width="1.2"/>
<text x="537.20" y="150.55" font-family="'Liberation Sans', sans-serif" font-weight="bold" font-size="7.95" text-anchor="middle">10</text>
<path d="M556.40 137.45v4.6" stroke="#000" stroke-width="1.2"/>
<text x="556.40" y="150.55" font-family="'Liberation Sans', sans-serif" font-weight="bold" font-size="7.95" text-anchor="middle">18</text>
<path d="M575.70 137.45v4.6" stroke="#000" stroke-width="1.2"/>
<text x="575.70" y="150.55" font-family="'Liberation Sans', sans-serif" font-weight="bold" font-size="7.95" text-anchor="middle">25</text>
<path d="M595.00 137.45v4.6" stroke="#000" stroke-width="1.2"/>
<text x="595.00" y="150.55" font-family="'Liberation Sans', sans-serif" font-weight="bold" font-size="7.95" text-anchor="middle">100</text>
<circle cx="459.9" cy="66.3" r="2.25" fill="#e3bba6"/>
<circle cx="459.9" cy="77.5" r="2.25" fill="#e3a9b3"/>
<circle cx="456.7" cy="107.4" r="2.25" fill="#e3bba6"/>
<circle cx="461.4" cy="105.6" r="2.25" fill="#f4ad62"/>
<circle cx="464.4" cy="107.9" r="2.25" fill="#f4ad62"/>
<circle cx="459.0" cy="110.1" r="2.25" fill="#e3a9b3"/>
<circle cx="462.1" cy="109.8" r="2.25" fill="#e3a9b3"/>
<circle cx="455.9" cy="116.1" r="2.25" fill="#e3a9b3"/>
<circle cx="464.4" cy="116.1" r="2.25" fill="#f4ad62"/>
<circle cx="459.0" cy="118.3" r="2.25" fill="#f4ad62"/>
<circle cx="461.7" cy="119.7" r="2.25" fill="#e3bba6"/>
<circle cx="459.9" cy="129.5" r="2.25" fill="#e3a9b3"/>
<circle cx="477.1" cy="51.8" r="2.25" fill="#e3a9b3"/>
<circle cx="481.7" cy="51.8" r="2.25" fill="#e3bba6"/>
<circle cx="479.5" cy="62.7" r="2.25" fill="#e3a9b3"/>
<circle cx="475.0" cy="73.4" r="2.25" fill="#f4ad62"/>
<circle cx="483.8" cy="73.4" r="2.25" fill="#e3a9b3"/>
<circle cx="479.5" cy="76.2" r="2.25" fill="#f4ad62"/>
<circle cx="479.5" cy="82.0" r="2.25" fill="#f4ad62"/>
<circle cx="479.5" cy="88.4" r="2.25" fill="#e3bba6"/>
<circle cx="479.5" cy="93.8" r="2.25" fill="#f4ad62"/>
<circle cx="479.5" cy="99.2" r="2.25" fill="#f4ad62"/>
<circle cx="479.5" cy="107.4" r="2.25" fill="#e3bba6"/>
<circle cx="477.1" cy="121.9" r="2.25" fill="#e3a9b3"/>
<circle cx="481.7" cy="119.7" r="2.25" fill="#e3a9b3"/>
<circle cx="498.9" cy="94.7" r="2.25" fill="#e3bba6"/>
<circle cx="494.3" cy="101.1" r="2.25" fill="#e3bba6"/>
<circle cx="503.0" cy="101.1" r="2.25" fill="#f4ad62"/>
<circle cx="499.8" cy="103.8" r="2.25" fill="#e3bba6"/>
<circle cx="497.0" cy="105.6" r="2.25" fill="#e3bba6"/>
<circle cx="497.6" cy="111.9" r="2.25" fill="#f4ad62"/>
<circle cx="494.3" cy="114.3" r="2.25" fill="#f4ad62"/>
<circle cx="503.0" cy="116.1" r="2.25" fill="#f4ad62"/>
<circle cx="499.8" cy="115.0" r="2.25" fill="#e3a9b3"/>
<circle cx="497.6" cy="118.3" r="2.25" fill="#e3a9b3"/>
<circle cx="498.9" cy="122.8" r="2.25" fill="#e3a9b3"/>
<circle cx="498.9" cy="128.2" r="2.25" fill="#e3a9b3"/>
<circle cx="498.9" cy="132.4" r="2.25" fill="#e3a9b3"/>
<circle cx="517.0" cy="118.6" r="2.25" fill="#e3bba6"/>
<circle cx="519.7" cy="120.6" r="2.25" fill="#f4ad62"/>
<circle cx="517.0" cy="124.6" r="2.25" fill="#f4ad62"/>
<circle cx="514.6" cy="128.2" r="2.25" fill="#e3bba6"/>
<circle cx="519.7" cy="128.2" r="2.25" fill="#e3a9b3"/>
<circle cx="513.9" cy="130.9" r="2.25" fill="#e3a9b3"/>
<circle cx="518.8" cy="130.0" r="2.25" fill="#f4ad62"/>
<circle cx="522.4" cy="129.7" r="2.25" fill="#e3bba6"/>
<circle cx="516.1" cy="131.8" r="2.25" fill="#e3a9b3"/>
<circle cx="519.7" cy="132.8" r="2.25" fill="#f4ad62"/>
<circle cx="514.2" cy="134.2" r="2.25" fill="#e3a9b3"/>
<circle cx="536.8" cy="121.8" r="2.25" fill="#e3bba6"/>
<circle cx="538.2" cy="124.7" r="2.25" fill="#f4ad62"/>
<circle cx="534.6" cy="129.5" r="2.25" fill="#e3a9b3"/>
<circle cx="537.5" cy="128.8" r="2.25" fill="#f4ad62"/>
<circle cx="533.1" cy="132.0" r="2.25" fill="#e3bba6"/>
<circle cx="538.2" cy="132.4" r="2.25" fill="#f4ad62"/>
<circle cx="541.2" cy="131.4" r="2.25" fill="#f4ad62"/>
<circle cx="555.8" cy="126.2" r="2.25" fill="#f4ad62"/>
<circle cx="559.4" cy="128.1" r="2.25" fill="#e3bba6"/>
<circle cx="555.8" cy="130.3" r="2.25" fill="#f4ad62"/>
<circle cx="552.8" cy="132.9" r="2.25" fill="#f4ad62"/>
<circle cx="555.0" cy="132.4" r="2.25" fill="#f4ad62"/>
<circle cx="558.2" cy="133.5" r="2.25" fill="#e3bba6"/>
<circle cx="561.6" cy="133.2" r="2.25" fill="#e3a9b3"/>
<circle cx="559.4" cy="136.1" r="2.25" fill="#e3a9b3"/>
<circle cx="575.9" cy="125.9" r="2.25" fill="#e3bba6"/>
<circle cx="574.7" cy="131.4" r="2.25" fill="#f4ad62"/>
<circle cx="572.6" cy="132.4" r="2.25" fill="#f4ad62"/>
<circle cx="577.7" cy="132.4" r="2.25" fill="#f4ad62"/>
<circle cx="579.9" cy="132.9" r="2.25" fill="#e3a9b3"/>
<circle cx="571.1" cy="134.3" r="2.25" fill="#e3a9b3"/>
<circle cx="576.2" cy="135.4" r="2.25" fill="#f4ad62"/>
<circle cx="596.6" cy="127.3" r="2.25" fill="#e3bba6"/>
<circle cx="593.7" cy="130.3" r="2.25" fill="#f4ad62"/>
<circle cx="598.1" cy="130.3" r="2.25" fill="#f4ad62"/>
<circle cx="591.5" cy="132.4" r="2.25" fill="#e3a9b3"/>
<circle cx="595.9" cy="132.4" r="2.25" fill="#f4ad62"/>
<circle cx="591.2" cy="134.3" r="2.25" fill="#f4ad62"/>
<circle cx="598.8" cy="134.3" r="2.25" fill="#e3a9b3"/>
<circle cx="595.9" cy="134.9" r="2.25" fill="#e3a9b3"/>
<circle cx="600.3" cy="133.2" r="2.25" fill="#e3bba6"/>
<path d="M459.8 45.3V39.2H518.2V45.3" stroke="#000" stroke-width="1" fill="none"/>
<text x="489.3" y="40.8" font-family="'Liberation Sans', sans-serif" font-weight="bold" font-size="15" text-anchor="middle">***</text>
<text x="527.5" y="163.25" font-family="'Liberation Sans', sans-serif" font-size="9.07" text-anchor="middle" fill="#111">Paclitaxel concentration (nM)</text>
<text transform="translate(427.2 83.9) rotate(-90)" font-family="'Liberation Sans', sans-serif" font-weight="bold" font-size="8.9" text-anchor="middle">EdU/pH3</text>
<text x="528" y="16.0" font-family="'Liberation Sans', sans-serif" font-weight="bold" font-size="10.2" text-anchor="middle">HBCx-4B</text>
<circle cx="619.2" cy="37.6" r="2.2" fill="#e3a9b3"/>
<text x="631.6" y="40.6" font-family="'Liberation Sans', sans-serif" font-size="8.9" fill="#111">PDX30</text>
<circle cx="619.2" cy="51.9" r="2.2" fill="#e3bba6"/>
<text x="631.6" y="54.9" font-family="'Liberation Sans', sans-serif" font-size="8.9" fill="#111">PDX38</text>
<circle cx="619.2" cy="66.2" r="2.2" fill="#f4ad62"/>
<text x="631.6" y="69.2" font-family="'Liberation Sans', sans-serif" font-size="8.9" fill="#111">PDX47</text>
<text x="393.5" y="14.6" font-family="'Liberation Sans', sans-serif" font-weight="bold" font-size="19">b</text>
</g>
<g id="pc">
<rect x="454.65" y="294.86" width="11.1" height="15.04" fill="#fff" stroke="#000" stroke-width="1.5"/>
<path d="M460.20 292.72V297.01M457.50 292.72h5.4M457.50 297.01h5.4" stroke="#000" stroke-width="0.7" fill="none"/>
<rect x="473.85" y="293.25" width="11.1" height="16.65" fill="#fff" stroke="#000" stroke-width="1.5"/>
<path d="M479.40 291.10V295.40M476.70 291.10h5.4M476.70 295.40h5.4" stroke="#000" stroke-width="0.7" fill="none"/>
<rect x="493.05" y="288.69" width="11.1" height="21.21" fill="#fff" stroke="#000" stroke-width="1.5"/>
<path d="M498.60 286.81V290.57M495.90 286.81h5.4M495.90 290.57h5.4" stroke="#000" stroke-width="0.7" fill="none"/>
<rect x="512.35" y="278.22" width="11.1" height="31.68" fill="#fff" stroke="#000" stroke-width="1.5"/>
<path d="M517.90 270.97V285.47M515.20 270.97h5.4M515.20 285.47h5.4" stroke="#000" stroke-width="0.7" fill="none"/>
<rect x="531.65" y="293.41" width="11.1" height="16.49" fill="#fff" stroke="#000" stroke-width="1.5"/>
<path d="M537.20 291.27V295.56M534.50 291.27h5.4M534.50 295.56h5.4" stroke="#000" stroke-width="0.7" fill="none"/>
<rect x="550.85" y="297.76" width="11.1" height="12.14" fill="#fff" stroke="#000" stroke-width="1.5"/>
<path d="M556.40 295.88V299.64M553.70 295.88h5.4M553.70 299.64h5.4" stroke="#000" stroke-width="0.7" fill="none"/>
<rect x="570.15" y="301.58" width="11.1" height="8.32" fill="#fff" stroke="#000" stroke-width="1.5"/>
<path d="M575.70 299.97V303.19M573.00 299.97h5.4M573.00 303.19h5.4" stroke="#000" stroke-width="0.7" fill="none"/>
<rect x="589.45" y="304.53" width="11.1" height="5.37" fill="#fff" stroke="#000" stroke-width="1.5"/>
<path d="M595.00 303.46V305.60M592.30 303.46h5.4M592.30 305.60h5.4" stroke="#000" stroke-width="0.7" fill="none"/>
<path d="M447.2 201.90V309.90H608.8" stroke="#000" stroke-width="1.4" fill="none"/>
<path d="M442.7 309.90h4.5" stroke="#000" stroke-width="1.2"/>
<text x="441.2" y="312.70" font-family="'Liberation Sans', sans-serif" font-weight="bold" font-size="8.0" text-anchor="end">0</text>
<path d="M442.7 283.05h4.5" stroke="#000" stroke-width="1.2"/>
<text x="441.2" y="285.85" font-family="'Liberation Sans', sans-serif" font-weight="bold" font-size="8.0" text-anchor="end">5</text>
<path d="M442.7 256.20h4.5" stroke="#000" stroke-width="1.2"/>
<text x="441.2" y="259.00" font-family="'Liberation Sans', sans-serif" font-weight="bold" font-size="8.0" text-anchor="end">10</text>
<path d="M442.7 229.35h4.5" stroke="#000" stroke-width="1.2"/>
<text x="441.2" y="232.15" font-family="'Liberation Sans', sans-serif" font-weight="bold" font-size="8.0" text-anchor="end">15</text>
<path d="M442.7 202.50h4.5" stroke="#000" stroke-width="1.2"/>
<text x="441.2" y="205.30" font-family="'Liberation Sans', sans-serif" font-weight="bold" font-size="8.0" text-anchor="end">20</text>
<path d="M460.20 309.90v4.6" stroke="#000" stroke-width="1.2"/>
<text x="460.20" y="323.00" font-family="'Liberation Sans', sans-serif" font-weight="bold" font-size="7.95" text-anchor="middle">UT</text>
<path d="M479.40 309.90v4.6" stroke="#000" stroke-width="1.2"/>
<text x="479.40" y="323.00" font-family="'Liberation Sans', sans-serif" font-weight="bold" font-size="7.95" text-anchor="middle">1</text>
<path d="M498.60 309.90v4.6" stroke="#000" stroke-width="1.2"/>
<text x="498.60" y="323.00" font-family="'Liberation Sans', sans-serif" font-weight="bold" font-size="7.95" text-anchor="middle">3</text>
<path d="M517.90 309.90v4.6" stroke="#000" stroke-width="1.2"/>
<text x="517.90" y="323.00" font-family="'Liberation Sans', sans-serif" font-weight="bold" font-size="7.95" text-anchor="middle">6</text>
<path d="M537.20 309.90v4.6" stroke="#000" stroke-width="1.2"/>
<text x="537.20" y="323.00" font-family="'Liberation Sans', sans-serif" font-weight="bold" font-size="7.95" text-anchor="middle">10</text>
<path d="M556.40 309.90v4.6" stroke="#000" stroke-width="1.2"/>
<text x="556.40" y="323.00" font-family="'Liberation Sans', sans-serif" font-weight="bold" font-size="7.95" text-anchor="middle">18</text>
<path d="M575.70 309.90v4.6" stroke="#000" stroke-width="1.2"/>
<text x="575.70" y="323.00" font-family="'Liberation Sans', sans-serif" font-weight="bold" font-size="7.95" text-anchor="middle">25</text>
<path d="M595.00 309.90v4.6" stroke="#000" stroke-width="1.2"/>
<text x="595.00" y="323.00" font-family="'Liberation Sans', sans-serif" font-weight="bold" font-size="7.95" text-anchor="middle">100</text>
<circle cx="459.9" cy="279.6" r="2.25" fill="#e3bba6"/>
<circle cx="461.4" cy="289.7" r="2.25" fill="#f4ad62"/>
<circle cx="459.0" cy="291.3" r="2.25" fill="#f4ad62"/>
<circle cx="457.2" cy="292.8" r="2.25" fill="#e3bba6"/>
<circle cx="464.4" cy="293.7" r="2.25" fill="#f4ad62"/>
<circle cx="457.2" cy="297.3" r="2.25" fill="#f4ad62"/>
<circle cx="461.7" cy="297.3" r="2.25" fill="#e3a9b3"/>
<circle cx="455.4" cy="300.6" r="2.25" fill="#e3bba6"/>
<circle cx="459.9" cy="299.7" r="2.25" fill="#e3bba6"/>
<circle cx="463.5" cy="299.1" r="2.25" fill="#e3a9b3"/>
<circle cx="462.6" cy="301.5" r="2.25" fill="#e3a9b3"/>
<circle cx="479.5" cy="276.5" r="2.25" fill="#f4ad62"/>
<circle cx="478.0" cy="286.1" r="2.25" fill="#f4ad62"/>
<circle cx="475.3" cy="290.1" r="2.25" fill="#e3bba6"/>
<circle cx="481.3" cy="289.2" r="2.25" fill="#e3bba6"/>
<circle cx="475.0" cy="294.6" r="2.25" fill="#f4ad62"/>
<circle cx="478.9" cy="295.1" r="2.25" fill="#e3a9b3"/>
<circle cx="483.1" cy="295.1" r="2.25" fill="#e3a9b3"/>
<circle cx="479.5" cy="300.0" r="2.25" fill="#f4ad62"/>
<circle cx="476.2" cy="301.8" r="2.25" fill="#e3bba6"/>
<circle cx="482.6" cy="301.5" r="2.25" fill="#e3a9b3"/>
<circle cx="498.9" cy="277.9" r="2.25" fill="#f4ad62"/>
<circle cx="497.6" cy="283.2" r="2.25" fill="#f4ad62"/>
<circle cx="500.3" cy="283.2" r="2.25" fill="#e3bba6"/>
<circle cx="499.8" cy="286.1" r="2.25" fill="#f4ad62"/>
<circle cx="497.0" cy="289.2" r="2.25" fill="#e3bba6"/>
<circle cx="503.0" cy="290.4" r="2.25" fill="#f4ad62"/>
<circle cx="494.3" cy="291.9" r="2.25" fill="#e3a9b3"/>
<circle cx="498.9" cy="291.9" r="2.25" fill="#e3bba6"/>
<circle cx="501.6" cy="292.8" r="2.25" fill="#e3a9b3"/>
<circle cx="498.9" cy="297.7" r="2.25" fill="#e3bba6"/>
<circle cx="517.9" cy="229.4" r="2.25" fill="#e3a9b3"/>
<circle cx="517.9" cy="238.5" r="2.25" fill="#e3a9b3"/>
<circle cx="517.9" cy="256.6" r="2.25" fill="#e3a9b3"/>
<circle cx="517.9" cy="276.5" r="2.25" fill="#f4ad62"/>
<circle cx="522.4" cy="285.0" r="2.25" fill="#e3a9b3"/>
<circle cx="513.9" cy="286.8" r="2.25" fill="#e3bba6"/>
<circle cx="517.9" cy="286.8" r="2.25" fill="#f4ad62"/>
<circle cx="522.4" cy="289.2" r="2.25" fill="#f4ad62"/>
<circle cx="513.9" cy="293.7" r="2.25" fill="#f4ad62"/>
<circle cx="517.9" cy="295.1" r="2.25" fill="#e3bba6"/>
<circle cx="522.4" cy="296.4" r="2.25" fill="#e3bba6"/>
<circle cx="513.9" cy="300.0" r="2.25" fill="#e3bba6"/>
<circle cx="535.8" cy="282.7" r="2.25" fill="#e3bba6"/>
<circle cx="533.1" cy="286.4" r="2.25" fill="#e3bba6"/>
<circle cx="538.7" cy="289.7" r="2.25" fill="#e3bba6"/>
<circle cx="533.9" cy="291.5" r="2.25" fill="#f4ad62"/>
<circle cx="536.1" cy="291.2" r="2.25" fill="#f4ad62"/>
<circle cx="541.9" cy="293.2" r="2.25" fill="#e3bba6"/>
<circle cx="538.7" cy="295.1" r="2.25" fill="#f4ad62"/>
<circle cx="532.8" cy="296.6" r="2.25" fill="#f4ad62"/>
<circle cx="541.9" cy="298.8" r="2.25" fill="#e3a9b3"/>
<circle cx="533.9" cy="301.0" r="2.25" fill="#e3a9b3"/>
<circle cx="538.7" cy="300.3" r="2.25" fill="#e3a9b3"/>
<circle cx="557.5" cy="287.4" r="2.25" fill="#e3bba6"/>
<circle cx="552.1" cy="290.3" r="2.25" fill="#e3bba6"/>
<circle cx="559.4" cy="293.2" r="2.25" fill="#e3a9b3"/>
<circle cx="555.0" cy="295.9" r="2.25" fill="#e3bba6"/>
<circle cx="561.3" cy="295.6" r="2.25" fill="#e3a9b3"/>
<circle cx="555.0" cy="298.5" r="2.25" fill="#f4ad62"/>
<circle cx="558.2" cy="299.5" r="2.25" fill="#e3a9b3"/>
<circle cx="552.8" cy="302.0" r="2.25" fill="#e3a9b3"/>
<circle cx="555.8" cy="301.4" r="2.25" fill="#f4ad62"/>
<circle cx="560.9" cy="301.4" r="2.25" fill="#f4ad62"/>
<circle cx="559.1" cy="303.2" r="2.25" fill="#e3a9b3"/>
<circle cx="575.9" cy="293.2" r="2.25" fill="#f4ad62"/>
<circle cx="575.9" cy="297.6" r="2.25" fill="#f4ad62"/>
<circle cx="572.3" cy="299.5" r="2.25" fill="#e3bba6"/>
<circle cx="579.9" cy="300.5" r="2.25" fill="#f4ad62"/>
<circle cx="574.0" cy="302.0" r="2.25" fill="#e3bba6"/>
<circle cx="577.7" cy="302.0" r="2.25" fill="#f4ad62"/>
<circle cx="575.5" cy="304.6" r="2.25" fill="#e3a9b3"/>
<circle cx="575.5" cy="306.8" r="2.25" fill="#e3a9b3"/>
<circle cx="591.1" cy="301.0" r="2.25" fill="#f4ad62"/>
<circle cx="598.1" cy="301.4" r="2.25" fill="#e3bba6"/>
<circle cx="594.5" cy="302.4" r="2.25" fill="#e3bba6"/>
<circle cx="600.0" cy="302.9" r="2.25" fill="#f4ad62"/>
<circle cx="593.7" cy="305.4" r="2.25" fill="#f4ad62"/>
<circle cx="596.6" cy="305.4" r="2.25" fill="#e3a9b3"/>
<circle cx="592.3" cy="306.1" r="2.25" fill="#f4ad62"/>
<circle cx="598.1" cy="308.3" r="2.25" fill="#e3a9b3"/>
<path d="M459.9 219.4V213.5H595.2V219.4" stroke="#000" stroke-width="1" fill="none"/>
<text x="528" y="208.6" font-family="'Liberation Sans', sans-serif" font-size="8.7" text-anchor="middle">ns</text>
<text x="527.5" y="335.70" font-family="'Liberation Sans', sans-serif" font-size="9.07" text-anchor="middle" fill="#111">Paclitaxel concentration (nM)</text>
<text transform="translate(427.2 256.2) rotate(-90)" font-family="'Liberation Sans', sans-serif" font-weight="bold" font-size="8.9" text-anchor="middle">EdU/pH3</text>
<text x="528" y="188.2" font-family="'Liberation Sans', sans-serif" font-weight="bold" font-size="10.2" text-anchor="middle">HBCx-39</text>
<circle cx="619.2" cy="209.1" r="2.2" fill="#e3a9b3"/>
<text x="631.6" y="212.1" font-family="'Liberation Sans', sans-serif" font-size="8.9" fill="#111">PDX29</text>
<circle cx="619.2" cy="223.4" r="2.2" fill="#e3bba6"/>
<text x="631.6" y="226.4" font-family="'Liberation Sans', sans-serif" font-size="8.9" fill="#111">PDX59</text>
<circle cx="619.2" cy="237.7" r="2.2" fill="#f4ad62"/>
<text x="631.6" y="240.7" font-family="'Liberation Sans', sans-serif" font-size="8.9" fill="#111">PDX62</text>
<text x="393.5" y="163.6" font-family="'Liberation Sans', sans-serif" font-weight="bold" font-size="19">c</text>
</g>
<g id="pd">
<polyline points="68.0,414.0 98.6,406.0 129.0,401.3 159.4,381.8 189.9,412.6 220.3,418.3 250.8,432.4 281.1,447.0" fill="none" stroke="#7eb0dc" stroke-width="1"/>
<path d="M98.6 400.0V414.0M95.5 400.0h6.2M95.5 414.0h6.2M129.0 397.3V406.3M125.9 397.3h6.2M125.9 406.3h6.2M159.4 366.6V408.8M156.3 366.6h6.2M156.3 408.8h6.2M189.9 410.1V415.6M186.8 410.1h6.2M186.8 415.6h6.2M220.3 413.3V424.3M217.2 413.3h6.2M217.2 424.3h6.2M250.8 423.4V444.4M247.7 423.4h6.2M247.7 444.4h6.2M281.1 441.0V455.0M278.0 441.0h6.2M278.0 455.0h6.2" stroke="#7eb0dc" stroke-width="0.9" fill="none"/>
<rect x="64.5" y="410.5" width="7.0" height="7.0" fill="#7eb0dc"/>
<rect x="95.1" y="402.5" width="7.0" height="7.0" fill="#7eb0dc"/>
<rect x="125.5" y="397.8" width="7.0" height="7.0" fill="#7eb0dc"/>
<rect x="155.9" y="378.3" width="7.0" height="7.0" fill="#7eb0dc"/>
<rect x="186.4" y="409.1" width="7.0" height="7.0" fill="#7eb0dc"/>
<rect x="216.8" y="414.8" width="7.0" height="7.0" fill="#7eb0dc"/>
<rect x="247.3" y="428.9" width="7.0" height="7.0" fill="#7eb0dc"/>
<rect x="277.6" y="443.5" width="7.0" height="7.0" fill="#7eb0dc"/>
<polyline points="68.0,414.0 98.6,409.0 129.0,412.7 159.4,429.8 189.9,431.5 220.3,443.0 250.8,436.0 281.1,474.5" fill="none" stroke="#7eb0dc" stroke-width="1"/>
<path d="M98.6 397.0V431.0M95.5 397.0h6.2M95.5 431.0h6.2M129.0 406.7V421.7M125.9 406.7h6.2M125.9 421.7h6.2M159.4 420.8V443.8M156.3 420.8h6.2M156.3 443.8h6.2M189.9 424.5V441.5M186.8 424.5h6.2M186.8 441.5h6.2M220.3 429.0V455.0M217.2 429.0h6.2M217.2 455.0h6.2M250.8 428.0V448.0M247.7 428.0h6.2M247.7 448.0h6.2M281.1 466.5V484.5M278.0 466.5h6.2M278.0 484.5h6.2" stroke="#7eb0dc" stroke-width="0.9" fill="none"/>
<path d="M64.3 414.0L68.0 410.3L71.7 414.0L68.0 417.7Z" fill="#7eb0dc"/>
<path d="M94.9 409.0L98.6 405.3L102.3 409.0L98.6 412.7Z" fill="#7eb0dc"/>
<path d="M125.3 412.7L129.0 409.0L132.7 412.7L129.0 416.4Z" fill="#7eb0dc"/>
<path d="M155.7 429.8L159.4 426.1L163.1 429.8L159.4 433.5Z" fill="#7eb0dc"/>
<path d="M186.2 431.5L189.9 427.8L193.6 431.5L189.9 435.2Z" fill="#7eb0dc"/>
<path d="M216.6 443.0L220.3 439.3L224.0 443.0L220.3 446.7Z" fill="#7eb0dc"/>
<path d="M247.1 436.0L250.8 432.3L254.5 436.0L250.8 439.7Z" fill="#7eb0dc"/>
<path d="M277.4 474.5L281.1 470.8L284.8 474.5L281.1 478.2Z" fill="#7eb0dc"/>
<polyline points="68.0,414.0 98.6,410.0 129.0,413.0 159.4,435.5 189.9,437.9 220.3,444.5 250.8,437.0 281.1,435.0" fill="none" stroke="#7eb0dc" stroke-width="1"/>
<path d="M98.6 404.0V419.0M95.5 404.0h6.2M95.5 419.0h6.2M129.0 407.0V421.0M125.9 407.0h6.2M125.9 421.0h6.2M159.4 425.5V451.5M156.3 425.5h6.2M156.3 451.5h6.2M189.9 431.9V445.9M186.8 431.9h6.2M186.8 445.9h6.2M220.3 434.5V460.5M217.2 434.5h6.2M217.2 460.5h6.2M250.8 429.0V449.0M247.7 429.0h6.2M247.7 449.0h6.2M281.1 421.5V457.0M278.0 421.5h6.2M278.0 457.0h6.2" stroke="#7eb0dc" stroke-width="0.9" fill="none"/>
<path d="M64.5 411.2L68.0 417.5L71.5 411.2Z" fill="none" stroke="#7eb0dc" stroke-width="1"/>
<path d="M95.1 407.2L98.6 413.5L102.1 407.2Z" fill="none" stroke="#7eb0dc" stroke-width="1"/>
<path d="M125.5 410.2L129.0 416.5L132.5 410.2Z" fill="none" stroke="#7eb0dc" stroke-width="1"/>
<path d="M155.9 432.7L159.4 439.0L162.9 432.7Z" fill="none" stroke="#7eb0dc" stroke-width="1"/>
<path d="M186.4 435.1L189.9 441.4L193.4 435.1Z" fill="none" stroke="#7eb0dc" stroke-width="1"/>
<path d="M216.8 441.7L220.3 448.0L223.8 441.7Z" fill="none" stroke="#7eb0dc" stroke-width="1"/>
<path d="M247.3 434.2L250.8 440.5L254.3 434.2Z" fill="none" stroke="#7eb0dc" stroke-width="1"/>
<path d="M277.6 432.2L281.1 438.5L284.6 432.2Z" fill="none" stroke="#7eb0dc" stroke-width="1"/>
<polyline points="68.0,414.0 98.6,411.0 129.0,443.0 159.4,436.0 189.9,431.7 220.3,445.0 250.8,438.0 281.1,475.0" fill="none" stroke="#7eb0dc" stroke-width="1"/>
<path d="M98.6 405.0V419.0M95.5 405.0h6.2M95.5 419.0h6.2M129.0 435.0V457.0M125.9 435.0h6.2M125.9 457.0h6.2M159.4 428.0V448.0M156.3 428.0h6.2M156.3 448.0h6.2M189.9 425.7V439.7M186.8 425.7h6.2M186.8 439.7h6.2M220.3 436.0V459.0M217.2 436.0h6.2M217.2 459.0h6.2M250.8 430.0V450.0M247.7 430.0h6.2M247.7 450.0h6.2M281.1 468.0V485.0M278.0 468.0h6.2M278.0 485.0h6.2" stroke="#7eb0dc" stroke-width="0.9" fill="none"/>
<path d="M64.5 416.8L68.0 410.5L71.5 416.8Z" fill="#7eb0dc"/>
<path d="M95.1 413.8L98.6 407.5L102.1 413.8Z" fill="#7eb0dc"/>
<path d="M125.5 445.8L129.0 439.5L132.5 445.8Z" fill="#7eb0dc"/>
<path d="M155.9 438.8L159.4 432.5L162.9 438.8Z" fill="#7eb0dc"/>
<path d="M186.4 434.5L189.9 428.2L193.4 434.5Z" fill="#7eb0dc"/>
<path d="M216.8 447.8L220.3 441.5L223.8 447.8Z" fill="#7eb0dc"/>
<path d="M247.3 440.8L250.8 434.5L254.3 440.8Z" fill="#7eb0dc"/>
<path d="M277.6 477.8L281.1 471.5L284.6 477.8Z" fill="#7eb0dc"/>
<polyline points="68.0,414.0 98.6,422.6 129.0,445.0 159.4,440.0 189.9,455.0 220.3,452.8 250.8,439.5 281.1,449.2" fill="none" stroke="#e5b0b3" stroke-width="1"/>
<path d="M98.6 416.6V444.6M95.5 416.6h6.2M95.5 444.6h6.2M129.0 433.0V469.0M125.9 433.0h6.2M125.9 469.0h6.2M159.4 430.0V468.0M156.3 430.0h6.2M156.3 468.0h6.2M189.9 447.0V469.0M186.8 447.0h6.2M186.8 469.0h6.2M220.3 443.8V466.8M217.2 443.8h6.2M217.2 466.8h6.2M250.8 427.5V459.5M247.7 427.5h6.2M247.7 459.5h6.2M281.1 439.2V465.2M278.0 439.2h6.2M278.0 465.2h6.2" stroke="#e5b0b3" stroke-width="0.9" fill="none"/>
<circle cx="68.0" cy="414.0" r="3.5" fill="#e5b0b3"/>
<circle cx="98.6" cy="422.6" r="3.5" fill="#e5b0b3"/>
<circle cx="129.0" cy="445.0" r="3.5" fill="#e5b0b3"/>
<circle cx="159.4" cy="440.0" r="3.5" fill="#e5b0b3"/>
<circle cx="189.9" cy="455.0" r="3.5" fill="#e5b0b3"/>
<circle cx="220.3" cy="452.8" r="3.5" fill="#e5b0b3"/>
<circle cx="250.8" cy="439.5" r="3.5" fill="#e5b0b3"/>
<circle cx="281.1" cy="449.2" r="3.5" fill="#e5b0b3"/>
<polyline points="68.0,414.0 98.6,408.0 129.0,423.0 159.4,432.0 189.9,450.0 220.3,459.0 250.8,458.0 281.1,463.0" fill="none" stroke="#e5b0b3" stroke-width="1"/>
<path d="M98.6 400.0V444.0M95.5 400.0h6.2M95.5 444.0h6.2M129.0 415.0V437.0M125.9 415.0h6.2M125.9 437.0h6.2M159.4 422.0V448.0M156.3 422.0h6.2M156.3 448.0h6.2M189.9 444.0V459.0M186.8 444.0h6.2M186.8 459.0h6.2M220.3 451.0V471.0M217.2 451.0h6.2M217.2 471.0h6.2M250.8 448.0V474.0M247.7 448.0h6.2M247.7 474.0h6.2M281.1 455.0V475.0M278.0 455.0h6.2M278.0 475.0h6.2" stroke="#e5b0b3" stroke-width="0.9" fill="none"/>
<path d="M64.5 411.2L68.0 417.5L71.5 411.2Z" fill="#e5b0b3"/>
<path d="M95.1 405.2L98.6 411.5L102.1 405.2Z" fill="#e5b0b3"/>
<path d="M125.5 420.2L129.0 426.5L132.5 420.2Z" fill="#e5b0b3"/>
<path d="M155.9 429.2L159.4 435.5L162.9 429.2Z" fill="#e5b0b3"/>
<path d="M186.4 447.2L189.9 453.5L193.4 447.2Z" fill="#e5b0b3"/>
<path d="M216.8 456.2L220.3 462.5L223.8 456.2Z" fill="#e5b0b3"/>
<path d="M247.3 455.2L250.8 461.5L254.3 455.2Z" fill="#e5b0b3"/>
<path d="M277.6 460.2L281.1 466.5L284.6 460.2Z" fill="#e5b0b3"/>
<polyline points="68.0,414.0 98.6,393.7 129.0,424.0 159.4,453.5 189.9,459.0 220.3,473.0 250.8,481.0 281.1,466.0" fill="none" stroke="#e5b0b3" stroke-width="1"/>
<path d="M98.6 388.7V399.7M95.5 388.7h6.2M95.5 399.7h6.2M129.0 416.0V436.0M125.9 416.0h6.2M125.9 436.0h6.2M159.4 443.5V468.5M156.3 443.5h6.2M156.3 468.5h6.2M189.9 450.0V474.0M186.8 450.0h6.2M186.8 474.0h6.2M220.3 463.0V489.0M217.2 463.0h6.2M217.2 489.0h6.2M250.8 467.0V509.0M247.7 467.0h6.2M247.7 509.0h6.2M281.1 456.0V482.0M278.0 456.0h6.2M278.0 482.0h6.2" stroke="#e5b0b3" stroke-width="0.9" fill="none"/>
<path d="M64.5 414.0h7.0M68.0 410.5v7.0M65.5 411.5L70.5 416.5M65.5 416.5L70.5 411.5" stroke="#e5b0b3" stroke-width="0.9" fill="none"/>
<path d="M95.1 393.7h7.0M98.6 390.2v7.0M96.1 391.2L101.1 396.2M96.1 396.2L101.1 391.2" stroke="#e5b0b3" stroke-width="0.9" fill="none"/>
<path d="M125.5 424.0h7.0M129.0 420.5v7.0M126.5 421.5L131.5 426.5M126.5 426.5L131.5 421.5" stroke="#e5b0b3" stroke-width="0.9" fill="none"/>
<path d="M155.9 453.5h7.0M159.4 450.0v7.0M156.9 451.0L161.9 456.0M156.9 456.0L161.9 451.0" stroke="#e5b0b3" stroke-width="0.9" fill="none"/>
<path d="M186.4 459.0h7.0M189.9 455.5v7.0M187.4 456.5L192.4 461.5M187.4 461.5L192.4 456.5" stroke="#e5b0b3" stroke-width="0.9" fill="none"/>
<path d="M216.8 473.0h7.0M220.3 469.5v7.0M217.8 470.5L222.8 475.5M217.8 475.5L222.8 470.5" stroke="#e5b0b3" stroke-width="0.9" fill="none"/>
<path d="M247.3 481.0h7.0M250.8 477.5v7.0M248.3 478.5L253.3 483.5M248.3 483.5L253.3 478.5" stroke="#e5b0b3" stroke-width="0.9" fill="none"/>
<path d="M277.6 466.0h7.0M281.1 462.5v7.0M278.6 463.5L283.6 468.5M278.6 468.5L283.6 463.5" stroke="#e5b0b3" stroke-width="0.9" fill="none"/>
<polyline points="68.0,414.0 98.6,407.0 129.0,425.0 159.4,424.0 189.9,452.0 220.3,451.0 250.8,429.5 281.1,466.0" fill="none" stroke="#e5b0b3" stroke-width="1"/>
<path d="M98.6 399.0V419.0M95.5 399.0h6.2M95.5 419.0h6.2M129.0 416.0V439.0M125.9 416.0h6.2M125.9 439.0h6.2M159.4 412.0V444.0M156.3 412.0h6.2M156.3 444.0h6.2M189.9 444.0V464.0M186.8 444.0h6.2M186.8 464.0h6.2M220.3 442.0V465.0M217.2 442.0h6.2M217.2 465.0h6.2M250.8 420.5V443.5M247.7 420.5h6.2M247.7 443.5h6.2M281.1 456.0V482.0M278.0 456.0h6.2M278.0 482.0h6.2" stroke="#e5b0b3" stroke-width="0.9" fill="none"/>
<rect x="64.9" y="410.9" width="6.2" height="6.2" fill="none" stroke="#e5b0b3" stroke-width="1"/><path d="M64.5 414.0h7.0" stroke="#e5b0b3" stroke-width="0.9"/>
<rect x="95.5" y="403.9" width="6.2" height="6.2" fill="none" stroke="#e5b0b3" stroke-width="1"/><path d="M95.1 407.0h7.0" stroke="#e5b0b3" stroke-width="0.9"/>
<rect x="125.9" y="421.9" width="6.2" height="6.2" fill="none" stroke="#e5b0b3" stroke-width="1"/><path d="M125.5 425.0h7.0" stroke="#e5b0b3" stroke-width="0.9"/>
<rect x="156.3" y="420.9" width="6.2" height="6.2" fill="none" stroke="#e5b0b3" stroke-width="1"/><path d="M155.9 424.0h7.0" stroke="#e5b0b3" stroke-width="0.9"/>
<rect x="186.8" y="448.9" width="6.2" height="6.2" fill="none" stroke="#e5b0b3" stroke-width="1"/><path d="M186.4 452.0h7.0" stroke="#e5b0b3" stroke-width="0.9"/>
<rect x="217.2" y="447.9" width="6.2" height="6.2" fill="none" stroke="#e5b0b3" stroke-width="1"/><path d="M216.8 451.0h7.0" stroke="#e5b0b3" stroke-width="0.9"/>
<rect x="247.7" y="426.4" width="6.2" height="6.2" fill="none" stroke="#e5b0b3" stroke-width="1"/><path d="M247.3 429.5h7.0" stroke="#e5b0b3" stroke-width="0.9"/>
<rect x="278.0" y="462.9" width="6.2" height="6.2" fill="none" stroke="#e5b0b3" stroke-width="1"/><path d="M277.6 466.0h7.0" stroke="#e5b0b3" stroke-width="0.9"/>
<polyline points="68.0,414.0 98.6,412.0 129.0,422.0 159.4,440.0 189.9,456.0 220.3,459.0 250.8,466.5 281.1,470.0" fill="none" stroke="#e5b0b3" stroke-width="1"/>
<path d="M98.6 406.0V420.0M95.5 406.0h6.2M95.5 420.0h6.2M129.0 414.0V434.0M125.9 414.0h6.2M125.9 434.0h6.2M159.4 430.0V456.0M156.3 430.0h6.2M156.3 456.0h6.2M189.9 448.0V468.0M186.8 448.0h6.2M186.8 468.0h6.2M220.3 449.0V475.0M217.2 449.0h6.2M217.2 475.0h6.2M250.8 454.5V486.5M247.7 454.5h6.2M247.7 486.5h6.2M281.1 460.0V486.0M278.0 460.0h6.2M278.0 486.0h6.2" stroke="#e5b0b3" stroke-width="0.9" fill="none"/>
<path d="M64.5 416.8L68.0 410.5L71.5 416.8Z" fill="none" stroke="#e5b0b3" stroke-width="1"/>
<path d="M95.1 414.8L98.6 408.5L102.1 414.8Z" fill="none" stroke="#e5b0b3" stroke-width="1"/>
<path d="M125.5 424.8L129.0 418.5L132.5 424.8Z" fill="none" stroke="#e5b0b3" stroke-width="1"/>
<path d="M155.9 442.8L159.4 436.5L162.9 442.8Z" fill="none" stroke="#e5b0b3" stroke-width="1"/>
<path d="M186.4 458.8L189.9 452.5L193.4 458.8Z" fill="none" stroke="#e5b0b3" stroke-width="1"/>
<path d="M216.8 461.8L220.3 455.5L223.8 461.8Z" fill="none" stroke="#e5b0b3" stroke-width="1"/>
<path d="M247.3 469.3L250.8 463.0L254.3 469.3Z" fill="none" stroke="#e5b0b3" stroke-width="1"/>
<path d="M277.6 472.8L281.1 466.5L284.6 472.8Z" fill="none" stroke="#e5b0b3" stroke-width="1"/>
<polyline points="68.0,414.0 98.6,413.0 129.0,427.0 159.4,442.0 189.9,448.0 220.3,472.9 250.8,472.0 281.1,479.0" fill="none" stroke="#e5b0b3" stroke-width="1"/>
<path d="M98.6 407.0V421.0M95.5 407.0h6.2M95.5 421.0h6.2M129.0 419.0V439.0M125.9 419.0h6.2M125.9 439.0h6.2M159.4 433.0V456.0M156.3 433.0h6.2M156.3 456.0h6.2M189.9 441.0V458.0M186.8 441.0h6.2M186.8 458.0h6.2M220.3 460.9V500.9M217.2 460.9h6.2M217.2 500.9h6.2M250.8 462.0V490.0M247.7 462.0h6.2M247.7 490.0h6.2M281.1 469.0V499.0M278.0 469.0h6.2M278.0 499.0h6.2" stroke="#e5b0b3" stroke-width="0.9" fill="none"/>
<path d="M64.3 414.0L68.0 410.3L71.7 414.0L68.0 417.7Z" fill="none" stroke="#e5b0b3" stroke-width="1"/><path d="M64.3 414.0h7.4" stroke="#e5b0b3" stroke-width="0.9"/>
<path d="M94.9 413.0L98.6 409.3L102.3 413.0L98.6 416.7Z" fill="none" stroke="#e5b0b3" stroke-width="1"/><path d="M94.9 413.0h7.4" stroke="#e5b0b3" stroke-width="0.9"/>
<path d="M125.3 427.0L129.0 423.3L132.7 427.0L129.0 430.7Z" fill="none" stroke="#e5b0b3" stroke-width="1"/><path d="M125.3 427.0h7.4" stroke="#e5b0b3" stroke-width="0.9"/>
<path d="M155.7 442.0L159.4 438.3L163.1 442.0L159.4 445.7Z" fill="none" stroke="#e5b0b3" stroke-width="1"/><path d="M155.7 442.0h7.4" stroke="#e5b0b3" stroke-width="0.9"/>
<path d="M186.2 448.0L189.9 444.3L193.6 448.0L189.9 451.7Z" fill="none" stroke="#e5b0b3" stroke-width="1"/><path d="M186.2 448.0h7.4" stroke="#e5b0b3" stroke-width="0.9"/>
<path d="M216.6 472.9L220.3 469.2L224.0 472.9L220.3 476.6Z" fill="none" stroke="#e5b0b3" stroke-width="1"/><path d="M216.6 472.9h7.4" stroke="#e5b0b3" stroke-width="0.9"/>
<path d="M247.1 472.0L250.8 468.3L254.5 472.0L250.8 475.7Z" fill="none" stroke="#e5b0b3" stroke-width="1"/><path d="M247.1 472.0h7.4" stroke="#e5b0b3" stroke-width="0.9"/>
<path d="M277.4 479.0L281.1 475.3L284.8 479.0L281.1 482.7Z" fill="none" stroke="#e5b0b3" stroke-width="1"/><path d="M277.4 479.0h7.4" stroke="#e5b0b3" stroke-width="0.9"/>
<path d="M53.3 443.2H294.5" stroke="#d9534f" stroke-width="1.6" opacity="0.9"/>
<rect x="180.7" y="331.8" width="18.9" height="205.8" rx="1" fill="none" stroke="#d23a30" stroke-width="1.2" stroke-dasharray="2.6 1.7"/>
<path d="M53.3 330.4V520.8H297" stroke="#000" stroke-width="1.45" fill="none"/>
<path d="M48.3 331.0h5M48.3 413.9h5M48.3 496.7h5M50.099999999999994 388.94h3.2M50.099999999999994 374.35h3.2M50.099999999999994 363.99h3.2M50.099999999999994 355.96h3.2M50.099999999999994 349.39h3.2M50.099999999999994 343.84h3.2M50.099999999999994 339.03h3.2M50.099999999999994 334.79h3.2M50.099999999999994 471.74h3.2M50.099999999999994 457.15h3.2M50.099999999999994 446.79h3.2M50.099999999999994 438.76h3.2M50.099999999999994 432.19h3.2M50.099999999999994 426.64h3.2M50.099999999999994 421.83h3.2M50.099999999999994 417.59h3.2M50.099999999999994 515.09h3.2M50.099999999999994 509.54h3.2M50.099999999999994 504.73h3.2M50.099999999999994 500.49h3.2" stroke="#000" stroke-width="1.1" fill="none"/>
<text x="43.0" y="333.5" font-family="'Liberation Sans', sans-serif" font-weight="bold" font-size="7.2" text-anchor="end">10</text>
<text x="43.2" y="330.4" font-family="'Liberation Sans', sans-serif" font-weight="bold" font-size="4.6">3</text>
<text x="43.0" y="416.4" font-family="'Liberation Sans', sans-serif" font-weight="bold" font-size="7.2" text-anchor="end">10</text>
<text x="43.2" y="413.3" font-family="'Liberation Sans', sans-serif" font-weight="bold" font-size="4.6">2</text>
<text x="43.0" y="499.2" font-family="'Liberation Sans', sans-serif" font-weight="bold" font-size="7.2" text-anchor="end">10</text>
<text x="43.2" y="496.1" font-family="'Liberation Sans', sans-serif" font-weight="bold" font-size="4.6">1</text>
<path d="M68.0 520.8v4.6" stroke="#000" stroke-width="1.1"/>
<text x="68.0" y="533.7" font-family="'Liberation Sans', sans-serif" font-weight="bold" font-size="7.4" text-anchor="middle">UT</text>
<path d="M98.6 520.8v4.6" stroke="#000" stroke-width="1.1"/>
<text x="98.6" y="533.7" font-family="'Liberation Sans', sans-serif" font-weight="bold" font-size="7.4" text-anchor="middle">1</text>
<path d="M129.0 520.8v4.6" stroke="#000" stroke-width="1.1"/>
<text x="129.0" y="533.7" font-family="'Liberation Sans', sans-serif" font-weight="bold" font-size="7.4" text-anchor="middle">3</text>
<path d="M159.4 520.8v4.6" stroke="#000" stroke-width="1.1"/>
<text x="159.4" y="533.7" font-family="'Liberation Sans', sans-serif" font-weight="bold" font-size="7.4" text-anchor="middle">6</text>
<path d="M189.9 520.8v4.6" stroke="#000" stroke-width="1.1"/>
<text x="189.9" y="533.7" font-family="'Liberation Sans', sans-serif" font-weight="bold" font-size="7.4" text-anchor="middle">10</text>
<path d="M220.3 520.8v4.6" stroke="#000" stroke-width="1.1"/>
<text x="220.3" y="533.7" font-family="'Liberation Sans', sans-serif" font-weight="bold" font-size="7.4" text-anchor="middle">18</text>
<path d="M250.8 520.8v4.6" stroke="#000" stroke-width="1.1"/>
<text x="250.8" y="533.7" font-family="'Liberation Sans', sans-serif" font-weight="bold" font-size="7.4" text-anchor="middle">25</text>
<path d="M281.1 520.8v4.6" stroke="#000" stroke-width="1.1"/>
<text x="281.1" y="533.7" font-family="'Liberation Sans', sans-serif" font-weight="bold" font-size="7.4" text-anchor="middle">100</text>
<text x="175.2" y="547.3" font-family="'Liberation Sans', sans-serif" font-size="8.55" text-anchor="middle" fill="#111">Paclitaxel concentration (nM)</text>
<text transform="translate(20.1 426) rotate(-90)" font-family="'Liberation Sans', sans-serif" font-weight="bold" font-size="8.5" text-anchor="middle">Percentage of replication vs mitosis</text>
<text transform="translate(29.7 426.4) rotate(-90)" font-family="'Liberation Sans', sans-serif" font-weight="bold" font-size="8.5" text-anchor="middle">(EdU/pH3 ratio) log10</text>
<text x="0.2" y="347.3" font-family="'Liberation Sans', sans-serif" font-weight="bold" font-size="19">d</text>
<circle cx="220.3" cy="344.4" r="3.3" fill="#e5b0b3"/>
<circle cx="220.3" cy="354.6" r="3.3" fill="#7eb0dc"/>
<text x="228.6" y="347.4" font-family="'Liberation Sans', sans-serif" font-size="8.55" fill="#111"><tspan font-style="italic">ex vivo</tspan> sensitive</text>
<text x="228.4" y="357.6" font-family="'Liberation Sans', sans-serif" font-size="8.55" fill="#111"><tspan font-style="italic">ex vivo</tspan> resistant</text>
<text x="304.5" y="336.5" font-family="'Liberation Sans', sans-serif" font-size="8.55" font-style="italic" fill="#111">Paclitaxel resistant</text>
<text x="304.5" y="346" font-family="'Liberation Sans', sans-serif" font-size="8.55" font-style="italic" fill="#111">(in vivo)</text>
<rect x="304.3" y="350.6" width="64.9" height="48.6" fill="#fff" stroke="#222" stroke-width="0.85"/>
<text x="304.5" y="408.8" font-family="'Liberation Sans', sans-serif" font-size="8.55" font-style="italic" fill="#111">Paclitaxel sensitive</text>
<text x="304.5" y="418.2" font-family="'Liberation Sans', sans-serif" font-size="8.55" font-style="italic" fill="#111">(in vivo)</text>
<rect x="304.3" y="421.4" width="64.9" height="98.9" fill="#fff" stroke="#222" stroke-width="0.85"/>
<path d="M305.7 360.6h11" stroke="#7eb0dc" stroke-width="1"/>
<rect x="307.7" y="357.1" width="7.0" height="7.0" fill="#7eb0dc"/>
<text x="322.6" y="363.6" font-family="'Liberation Sans', sans-serif" font-size="8.4" fill="#111">HBCx-39</text>
<path d="M305.7 375.2h11" stroke="#7eb0dc" stroke-width="1"/>
<path d="M307.5 375.2L311.2 371.5L314.9 375.2L311.2 378.9Z" fill="#7eb0dc"/>
<text x="322.6" y="378.2" font-family="'Liberation Sans', sans-serif" font-size="8.4" fill="#111">HBCx-147</text>
<path d="M305.7 389.7h11" stroke="#7eb0dc" stroke-width="1"/>
<path d="M307.7 386.9L311.2 393.2L314.7 386.9Z" fill="none" stroke="#7eb0dc" stroke-width="1"/>
<text x="322.6" y="392.7" font-family="'Liberation Sans', sans-serif" font-size="8.4" fill="#111">HBCx-131</text>
<path d="M305.7 430.3h11" stroke="#7eb0dc" stroke-width="1"/>
<path d="M307.7 433.1L311.2 426.8L314.7 433.1Z" fill="#7eb0dc"/>
<text x="322.6" y="433.3" font-family="'Liberation Sans', sans-serif" font-size="8.4" fill="#111">HBCx-216</text>
<path d="M305.7 444.2h11" stroke="#e5b0b3" stroke-width="1"/>
<circle cx="311.2" cy="444.2" r="3.5" fill="#e5b0b3"/>
<text x="322.6" y="447.2" font-family="'Liberation Sans', sans-serif" font-size="8.4" fill="#111">HBCx-11</text>
<path d="M305.7 457.6h11" stroke="#e5b0b3" stroke-width="1"/>
<path d="M307.7 454.8L311.2 461.1L314.7 454.8Z" fill="#e5b0b3"/>
<text x="322.6" y="460.6" font-family="'Liberation Sans', sans-serif" font-size="8.4" fill="#111">HBCx-204</text>
<path d="M305.7 471.2h11" stroke="#e5b0b3" stroke-width="1"/>
<path d="M307.7 471.2h7.0M311.2 467.7v7.0M308.7 468.7L313.7 473.7M308.7 473.7L313.7 468.7" stroke="#e5b0b3" stroke-width="0.9" fill="none"/>
<text x="322.6" y="474.2" font-family="'Liberation Sans', sans-serif" font-size="8.4" fill="#111">HBCx-4B</text>
<path d="M305.7 484.5h11" stroke="#e5b0b3" stroke-width="1"/>
<rect x="308.1" y="481.4" width="6.2" height="6.2" fill="none" stroke="#e5b0b3" stroke-width="1"/><path d="M307.7 484.5h7.0" stroke="#e5b0b3" stroke-width="0.9"/>
<text x="322.6" y="487.5" font-family="'Liberation Sans', sans-serif" font-size="8.4" fill="#111">HBCx-209</text>
<path d="M305.7 498.1h11" stroke="#e5b0b3" stroke-width="1"/>
<path d="M307.7 500.9L311.2 494.6L314.7 500.9Z" fill="none" stroke="#e5b0b3" stroke-width="1"/>
<text x="322.6" y="501.1" font-family="'Liberation Sans', sans-serif" font-size="8.4" fill="#111">HBCx-3</text>
<path d="M305.7 511.8h11" stroke="#e5b0b3" stroke-width="1"/>
<path d="M307.5 511.8L311.2 508.1L314.9 511.8L311.2 515.5Z" fill="none" stroke="#e5b0b3" stroke-width="1"/><path d="M307.5 511.8h7.4" stroke="#e5b0b3" stroke-width="0.9"/>
<text x="322.6" y="514.8" font-family="'Liberation Sans', sans-serif" font-size="8.4" fill="#111">HBCx-137</text>
</g>
<g id="pe">
<rect x="463.2" y="459.70" width="14.8" height="70.60" fill="#e3abb0"/>
<circle cx="470.6" cy="460.00" r="2.3" fill="#e3abb0"/>
<text x="470.6" y="450.7" font-family="'Liberation Sans', sans-serif" font-size="7.1" text-anchor="middle" fill="#333">100%</text>
<path d="M470.6 530.3v5" stroke="#000" stroke-width="1.3"/>
<text transform="translate(473.8 542.3) rotate(-45)" font-family="'Liberation Sans', sans-serif" font-weight="bold" font-size="8.1" text-anchor="end">HBCx-4B</text>
<rect x="485.2" y="459.70" width="14.8" height="70.60" fill="#e3abb0"/>
<circle cx="492.6" cy="460.00" r="2.3" fill="#e3abb0"/>
<text x="492.6" y="450.7" font-family="'Liberation Sans', sans-serif" font-size="7.1" text-anchor="middle" fill="#333">100%</text>
<path d="M492.6 530.3v5" stroke="#000" stroke-width="1.3"/>
<text transform="translate(495.8 542.3) rotate(-45)" font-family="'Liberation Sans', sans-serif" font-weight="bold" font-size="8.1" text-anchor="end">HBCx-204</text>
<rect x="507.2" y="459.70" width="14.8" height="70.60" fill="#e3abb0"/>
<circle cx="514.6" cy="460.00" r="2.3" fill="#e3abb0"/>
<text x="514.6" y="450.7" font-family="'Liberation Sans', sans-serif" font-size="7.1" text-anchor="middle" fill="#333">100%</text>
<path d="M514.6 530.3v5" stroke="#000" stroke-width="1.3"/>
<text transform="translate(517.8 542.3) rotate(-45)" font-family="'Liberation Sans', sans-serif" font-weight="bold" font-size="8.1" text-anchor="end">HBCx-137</text>
<rect x="529.2" y="459.70" width="14.8" height="70.60" fill="#e3abb0"/>
<circle cx="536.6" cy="460.00" r="2.3" fill="#e3abb0"/>
<text x="536.6" y="450.7" font-family="'Liberation Sans', sans-serif" font-size="7.1" text-anchor="middle" fill="#333">100%</text>
<path d="M536.6 530.3v5" stroke="#000" stroke-width="1.3"/>
<text transform="translate(539.8 542.3) rotate(-45)" font-family="'Liberation Sans', sans-serif" font-weight="bold" font-size="8.1" text-anchor="end">HBCx-209</text>
<rect x="551.2" y="465.35" width="14.8" height="64.95" fill="#e3abb0"/>
<circle cx="558.6" cy="465.65" r="2.3" fill="#e3abb0"/>
<text x="558.6" y="459.2" font-family="'Liberation Sans', sans-serif" font-size="7.1" text-anchor="middle" fill="#333">92%</text>
<path d="M558.6 530.3v5" stroke="#000" stroke-width="1.3"/>
<text transform="translate(561.8 542.3) rotate(-45)" font-family="'Liberation Sans', sans-serif" font-weight="bold" font-size="8.1" text-anchor="end">HBCx-3</text>
<rect x="573.2" y="466.05" width="14.8" height="64.25" fill="#e3abb0"/>
<circle cx="580.6" cy="466.35" r="2.3" fill="#e3abb0"/>
<text x="580.6" y="460.0" font-family="'Liberation Sans', sans-serif" font-size="7.1" text-anchor="middle" fill="#333">91%</text>
<path d="M580.6 530.3v5" stroke="#000" stroke-width="1.3"/>
<text transform="translate(583.8 542.3) rotate(-45)" font-family="'Liberation Sans', sans-serif" font-weight="bold" font-size="8.1" text-anchor="end">HBCx-216</text>
<rect x="595.2" y="468.88" width="14.8" height="61.42" fill="#e3abb0"/>
<circle cx="602.6" cy="469.18" r="2.3" fill="#e3abb0"/>
<text x="602.6" y="462.8" font-family="'Liberation Sans', sans-serif" font-size="7.1" text-anchor="middle" fill="#333">87%</text>
<path d="M602.6 530.3v5" stroke="#000" stroke-width="1.3"/>
<text transform="translate(605.8 542.3) rotate(-45)" font-family="'Liberation Sans', sans-serif" font-weight="bold" font-size="8.1" text-anchor="end">HBCx-11</text>
<rect x="617.2" y="495.00" width="14.8" height="35.30" fill="#7eb0dc"/>
<circle cx="624.6" cy="495.30" r="2.3" fill="#7eb0dc"/>
<text x="624.6" y="488.9" font-family="'Liberation Sans', sans-serif" font-size="7.1" text-anchor="middle" fill="#333">50%</text>
<path d="M624.6 530.3v5" stroke="#000" stroke-width="1.3"/>
<text transform="translate(627.8 542.3) rotate(-45)" font-family="'Liberation Sans', sans-serif" font-weight="bold" font-size="8.1" text-anchor="end">HBCx-39</text>
<rect x="639.2" y="495.71" width="14.8" height="34.59" fill="#7eb0dc"/>
<circle cx="646.6" cy="496.01" r="2.3" fill="#7eb0dc"/>
<text x="646.6" y="489.6" font-family="'Liberation Sans', sans-serif" font-size="7.1" text-anchor="middle" fill="#333">49%</text>
<path d="M646.6 530.3v5" stroke="#000" stroke-width="1.3"/>
<text transform="translate(649.8 542.3) rotate(-45)" font-family="'Liberation Sans', sans-serif" font-weight="bold" font-size="8.1" text-anchor="end">HBCx-131</text>
<rect x="661.2" y="503.47" width="14.8" height="26.83" fill="#7eb0dc"/>
<circle cx="668.6" cy="503.77" r="2.3" fill="#7eb0dc"/>
<text x="668.6" y="497.4" font-family="'Liberation Sans', sans-serif" font-size="7.1" text-anchor="middle" fill="#333">38%</text>
<path d="M668.6 530.3v5" stroke="#000" stroke-width="1.3"/>
<text transform="translate(671.8 542.3) rotate(-45)" font-family="'Liberation Sans', sans-serif" font-weight="bold" font-size="8.1" text-anchor="end">HBCx-147</text>
<path d="M455.8 423.80V530.3H682.8" stroke="#000" stroke-width="1.5" fill="none"/>
<path d="M451.0 530.30h4.8" stroke="#000" stroke-width="1.2"/>
<text x="449.6" y="533.10" font-family="'Liberation Sans', sans-serif" font-weight="bold" font-size="7.8" text-anchor="end">0</text>
<path d="M451.0 495.00h4.8" stroke="#000" stroke-width="1.2"/>
<text x="449.6" y="497.80" font-family="'Liberation Sans', sans-serif" font-weight="bold" font-size="7.8" text-anchor="end">50</text>
<path d="M451.0 459.70h4.8" stroke="#000" stroke-width="1.2"/>
<text x="449.6" y="462.50" font-family="'Liberation Sans', sans-serif" font-weight="bold" font-size="7.8" text-anchor="end">100</text>
<path d="M451.0 424.40h4.8" stroke="#000" stroke-width="1.2"/>
<text x="449.6" y="427.20" font-family="'Liberation Sans', sans-serif" font-weight="bold" font-size="7.8" text-anchor="end">150</text>
<text transform="translate(430.2 477.5) rotate(-90)" font-family="'Liberation Sans', sans-serif" font-weight="bold" font-size="8.6" text-anchor="middle">Tumor growth inhibition (%)</text>
<text x="393.8" y="347.4" font-family="'Liberation Sans', sans-serif" font-weight="bold" font-size="19">e</text>
</g>
<g id="pf">
<rect x="70.9" y="627.1" width="16.5" height="15.6" fill="#e1abb0"/>
<rect x="70.9" y="645.6" width="16.5" height="16" fill="#e1abb0"/>
<text transform="translate(80.3 616.8) rotate(-45)" font-family="'Liberation Sans', sans-serif" font-size="8.1" fill="#111">HBCx-11</text>
<rect x="91.4" y="627.1" width="16.5" height="15.6" fill="#7fa9d0"/>
<rect x="91.4" y="645.6" width="16.5" height="16" fill="#7fa9d0"/>
<text transform="translate(100.8 616.8) rotate(-45)" font-family="'Liberation Sans', sans-serif" font-size="8.1" fill="#111">HBCx-39</text>
<rect x="111.7" y="627.1" width="16.5" height="15.6" fill="#e1abb0"/>
<rect x="111.7" y="645.6" width="16.5" height="16" fill="#e1abb0"/>
<text transform="translate(121.1 616.8) rotate(-45)" font-family="'Liberation Sans', sans-serif" font-size="8.1" fill="#111">HBCx-204</text>
<rect x="132.0" y="627.1" width="16.5" height="15.6" fill="#e1abb0"/>
<rect x="132.0" y="645.6" width="16.5" height="16" fill="#7fa9d0"/>
<text transform="translate(141.4 616.8) rotate(-45)" font-family="'Liberation Sans', sans-serif" font-size="8.1" fill="#111">HBCx-216</text>
<rect x="152.5" y="627.1" width="16.5" height="15.6" fill="#7fa9d0"/>
<rect x="152.5" y="645.6" width="16.5" height="16" fill="#7fa9d0"/>
<text transform="translate(161.9 616.8) rotate(-45)" font-family="'Liberation Sans', sans-serif" font-size="8.1" fill="#111">HBCx-147</text>
<rect x="172.4" y="627.1" width="16.5" height="15.6" fill="#e1abb0"/>
<rect x="172.4" y="645.6" width="16.5" height="16" fill="#e1abb0"/>
<text transform="translate(181.8 616.8) rotate(-45)" font-family="'Liberation Sans', sans-serif" font-size="8.1" fill="#111">HBCx-4B</text>
<rect x="192.3" y="627.1" width="16.5" height="15.6" fill="#e1abb0"/>
<rect x="192.3" y="645.6" width="16.5" height="16" fill="#e1abb0"/>
<text transform="translate(201.7 616.8) rotate(-45)" font-family="'Liberation Sans', sans-serif" font-size="8.1" fill="#111">HBCx-209</text>
<rect x="212.1" y="627.1" width="16.5" height="15.6" fill="#e1abb0"/>
<rect x="212.1" y="645.6" width="16.5" height="16" fill="#e1abb0"/>
<text transform="translate(221.5 616.8) rotate(-45)" font-family="'Liberation Sans', sans-serif" font-size="8.1" fill="#111">HBCx-5</text>
<rect x="232.0" y="627.1" width="16.5" height="15.6" fill="#7fa9d0"/>
<rect x="232.0" y="645.6" width="16.5" height="16" fill="#7fa9d0"/>
<text transform="translate(241.4 616.8) rotate(-45)" font-family="'Liberation Sans', sans-serif" font-size="8.1" fill="#111">HBCx-131</text>
<rect x="251.9" y="627.1" width="16.5" height="15.6" fill="#e1abb0"/>
<rect x="251.9" y="645.6" width="16.5" height="16" fill="#e1abb0"/>
<text transform="translate(261.3 616.8) rotate(-45)" font-family="'Liberation Sans', sans-serif" font-size="8.1" fill="#111">HBCx-137</text>
<text x="62.6" y="638.5" font-family="'Liberation Sans', sans-serif" font-size="8.4" font-style="italic" text-anchor="end" fill="#111">In vivo</text>
<text x="62.6" y="657.8" font-family="'Liberation Sans', sans-serif" font-size="8.4" font-style="italic" text-anchor="end" fill="#111">Ex vivo</text>
<rect x="285.7" y="628.4" width="8.2" height="8.2" fill="#e1abb0"/>
<rect x="285.7" y="640.7" width="8.2" height="8.2" fill="#7fa9d0"/>
<text x="303.2" y="636.6" font-family="'Liberation Sans', sans-serif" font-size="8.6" fill="#111">responder</text>
<text x="300.6" y="648.8" font-family="'Liberation Sans', sans-serif" font-size="8.7" fill="#111">non-responder</text>
<text x="0.5" y="608.5" font-family="'Liberation Sans', sans-serif" font-weight="bold" font-size="19">f</text>
</g>
</svg>
</body></html>
